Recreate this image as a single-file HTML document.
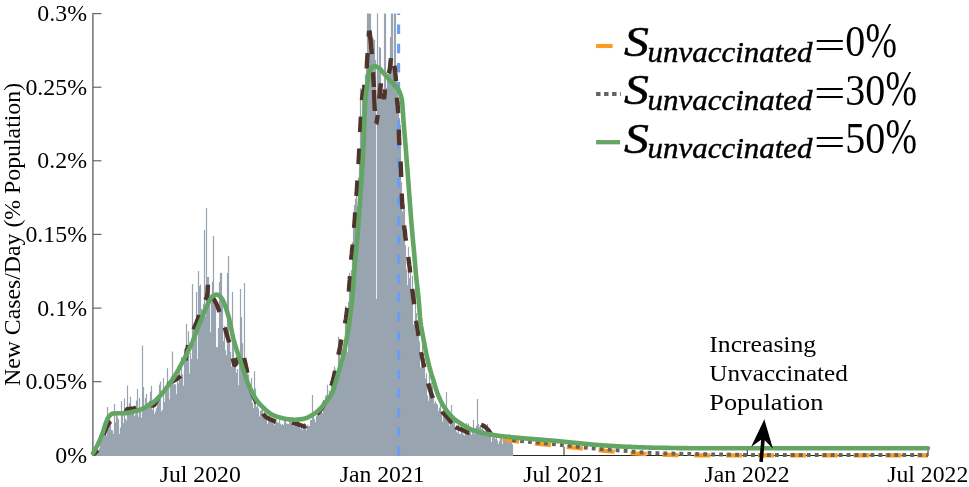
<!DOCTYPE html>
<html lang="en"><head><meta charset="utf-8"><title>New Cases/Day (% Population)</title>
<style>html,body{margin:0;padding:0;background:#fff;overflow:hidden}svg{display:block}</style></head>
<body>
<svg width="969" height="487" viewBox="0 0 969 487">
<rect width="969" height="487" fill="#fff"/>
<g stroke="#262626" stroke-width="1" fill="none">
<path d="M93.0,455.5 H928.5"/>
<path d="M200.5,455.2 v-8.3"/>
<path d="M382.5,455.2 v-8.3"/>
<path d="M564.0,455.2 v-8.3"/>
<path d="M747.3,455.2 v-8.3"/>
<path d="M928.0,455.2 v-8.3"/>
</g>
<path d="M92.9,456.0v-2.1h1.2v2.1zM93.9,456.0v-3.0h1.2v3.0zM94.9,456.0v-3.6h1.2v3.6zM95.9,456.0v-4.1h1.2v4.1zM96.9,456.0v-5.4h1.2v5.4zM97.9,456.0v-5.5h1.2v5.5zM98.9,456.0v-7.6h1.2v7.6zM99.9,456.0v-15.2h1.2v15.2zM100.9,456.0v-15.0h1.2v15.0zM101.9,456.0v-17.1h1.2v17.1zM102.9,456.0v-22.8h1.2v22.8zM103.9,456.0v-25.2h1.2v25.2zM104.9,456.0v-23.6h1.2v23.6zM105.9,456.0v-20.2h1.2v20.2zM106.9,456.0v-49.0h1.2v49.0zM107.9,456.0v-40.6h1.2v40.6zM108.9,456.0v-40.8h1.2v40.8zM109.9,456.0v-32.8h1.2v32.8zM110.9,456.0v-25.9h1.2v25.9zM111.9,456.0v-25.6h1.2v25.6zM112.9,456.0v-22.1h1.2v22.1zM113.9,456.0v-52.1h1.2v52.1zM114.9,456.0v-33.8h1.2v33.8zM115.9,456.0v-42.5h1.2v42.5zM116.9,456.0v-39.6h1.2v39.6zM117.9,456.0v-36.8h1.2v36.8zM118.9,456.0v-22.1h1.2v22.1zM119.9,456.0v-28.5h1.2v28.5zM120.9,456.0v-55.1h1.2v55.1zM121.9,456.0v-43.9h1.2v43.9zM122.9,456.0v-32.8h1.2v32.8zM123.9,456.0v-57.4h1.2v57.4zM124.9,456.0v-37.3h1.2v37.3zM125.9,456.0v-35.4h1.2v35.4zM126.9,456.0v-70.5h1.2v70.5zM127.9,456.0v-43.7h1.2v43.7zM128.9,456.0v-52.7h1.2v52.7zM129.9,456.0v-59.3h1.2v59.3zM130.9,456.0v-43.8h1.2v43.8zM131.9,456.0v-46.7h1.2v46.7zM132.9,456.0v-42.8h1.2v42.8zM133.9,456.0v-39.7h1.2v39.7zM134.9,456.0v-41.8h1.2v41.8zM135.9,456.0v-55.4h1.2v55.4zM136.9,456.0v-67.0h1.2v67.0zM137.9,456.0v-39.3h1.2v39.3zM138.9,456.0v-58.2h1.2v58.2zM139.9,456.0v-45.8h1.2v45.8zM140.9,456.0v-38.2h1.2v38.2zM141.9,456.0v-110.4h1.2v110.4zM142.9,456.0v-69.0h1.2v69.0zM143.9,456.0v-48.7h1.2v48.7zM144.9,456.0v-57.7h1.2v57.7zM145.9,456.0v-61.9h1.2v61.9zM146.9,456.0v-47.2h1.2v47.2zM147.9,456.0v-49.4h1.2v49.4zM148.9,456.0v-55.1h1.2v55.1zM149.9,456.0v-64.2h1.2v64.2zM150.9,456.0v-69.9h1.2v69.9zM151.9,456.0v-46.2h1.2v46.2zM152.9,456.0v-52.4h1.2v52.4zM153.9,456.0v-42.0h1.2v42.0zM154.9,456.0v-44.6h1.2v44.6zM155.9,456.0v-47.8h1.2v47.8zM156.9,456.0v-57.8h1.2v57.8zM157.9,456.0v-61.1h1.2v61.1zM158.9,456.0v-71.2h1.2v71.2zM159.9,456.0v-74.5h1.2v74.5zM160.9,456.0v-44.4h1.2v44.4zM161.9,456.0v-46.2h1.2v46.2zM162.9,456.0v-78.0h1.2v78.0zM163.9,456.0v-54.1h1.2v54.1zM164.9,456.0v-68.7h1.2v68.7zM165.9,456.0v-70.1h1.2v70.1zM166.9,456.0v-87.7h1.2v87.7zM167.9,456.0v-71.0h1.2v71.0zM168.9,456.0v-56.4h1.2v56.4zM169.9,456.0v-73.3h1.2v73.3zM170.9,456.0v-79.8h1.2v79.8zM171.9,456.0v-104.5h1.2v104.5zM172.9,456.0v-71.5h1.2v71.5zM173.9,456.0v-72.1h1.2v72.1zM174.9,456.0v-71.4h1.2v71.4zM175.9,456.0v-61.8h1.2v61.8zM176.9,456.0v-79.7h1.2v79.7zM177.9,456.0v-72.8h1.2v72.8zM178.9,456.0v-85.4h1.2v85.4zM179.9,456.0v-75.9h1.2v75.9zM180.9,456.0v-99.1h1.2v99.1zM181.9,456.0v-81.7h1.2v81.7zM182.9,456.0v-70.3h1.2v70.3zM183.9,456.0v-107.2h1.2v107.2zM184.9,456.0v-101.6h1.2v101.6zM185.9,456.0v-132.1h1.2v132.1zM186.9,456.0v-110.3h1.2v110.3zM187.9,456.0v-124.7h1.2v124.7zM188.9,456.0v-82.2h1.2v82.2zM189.9,456.0v-103.3h1.2v103.3zM190.9,456.0v-97.1h1.2v97.1zM191.9,456.0v-172.0h1.2v172.0zM192.9,456.0v-130.0h1.2v130.0zM193.9,456.0v-113.1h1.2v113.1zM194.9,456.0v-135.1h1.2v135.1zM195.9,456.0v-164.0h1.2v164.0zM196.9,456.0v-96.9h1.2v96.9zM197.9,456.0v-185.0h1.2v185.0zM198.9,456.0v-170.0h1.2v170.0zM199.9,456.0v-171.6h1.2v171.6zM200.9,456.0v-147.3h1.2v147.3zM201.9,456.0v-146.1h1.2v146.1zM202.9,456.0v-151.7h1.2v151.7zM203.9,456.0v-226.0h1.2v226.0zM204.9,456.0v-139.8h1.2v139.8zM205.9,456.0v-248.0h1.2v248.0zM206.9,456.0v-179.1h1.2v179.1zM207.9,456.0v-179.0h1.2v179.0zM208.9,456.0v-172.0h1.2v172.0zM209.9,456.0v-123.4h1.2v123.4zM210.9,456.0v-154.8h1.2v154.8zM211.9,456.0v-174.5h1.2v174.5zM212.9,456.0v-220.0h1.2v220.0zM213.9,456.0v-152.7h1.2v152.7zM214.9,456.0v-154.4h1.2v154.4zM215.9,456.0v-108.7h1.2v108.7zM216.9,456.0v-108.9h1.2v108.9zM217.9,456.0v-128.0h1.2v128.0zM218.9,456.0v-174.0h1.2v174.0zM219.9,456.0v-183.2h1.2v183.2zM220.9,456.0v-183.0h1.2v183.0zM221.9,456.0v-157.3h1.2v157.3zM222.9,456.0v-115.0h1.2v115.0zM223.9,456.0v-129.7h1.2v129.7zM224.9,456.0v-105.6h1.2v105.6zM225.9,456.0v-100.7h1.2v100.7zM226.9,456.0v-183.0h1.2v183.0zM227.9,456.0v-200.0h1.2v200.0zM228.9,456.0v-113.8h1.2v113.8zM229.9,456.0v-104.0h1.2v104.0zM230.9,456.0v-89.3h1.2v89.3zM231.9,456.0v-164.0h1.2v164.0zM232.9,456.0v-120.9h1.2v120.9zM233.9,456.0v-93.4h1.2v93.4zM234.9,456.0v-98.3h1.2v98.3zM235.9,456.0v-83.2h1.2v83.2zM236.9,456.0v-86.9h1.2v86.9zM237.9,456.0v-70.8h1.2v70.8zM238.9,456.0v-104.3h1.2v104.3zM239.9,456.0v-167.0h1.2v167.0zM240.9,456.0v-138.8h1.2v138.8zM241.9,456.0v-112.7h1.2v112.7zM242.9,456.0v-93.0h1.2v93.0zM243.9,456.0v-173.0h1.2v173.0zM244.9,456.0v-76.2h1.2v76.2zM245.9,456.0v-74.6h1.2v74.6zM246.9,456.0v-82.4h1.2v82.4zM247.9,456.0v-81.5h1.2v81.5zM248.9,456.0v-64.9h1.2v64.9zM249.9,456.0v-62.7h1.2v62.7zM250.9,456.0v-77.9h1.2v77.9zM251.9,456.0v-53.2h1.2v53.2zM252.9,456.0v-47.7h1.2v47.7zM253.9,456.0v-84.8h1.2v84.8zM254.9,456.0v-67.4h1.2v67.4zM255.9,456.0v-49.0h1.2v49.0zM256.9,456.0v-51.2h1.2v51.2zM257.9,456.0v-47.4h1.2v47.4zM258.9,456.0v-39.5h1.2v39.5zM259.9,456.0v-45.1h1.2v45.1zM260.9,456.0v-45.9h1.2v45.9zM261.9,456.0v-45.9h1.2v45.9zM262.9,456.0v-40.9h1.2v40.9zM263.9,456.0v-42.4h1.2v42.4zM264.9,456.0v-37.8h1.2v37.8zM265.9,456.0v-36.2h1.2v36.2zM266.9,456.0v-32.1h1.2v32.1zM267.9,456.0v-35.0h1.2v35.0zM268.9,456.0v-43.4h1.2v43.4zM269.9,456.0v-36.5h1.2v36.5zM270.9,456.0v-37.4h1.2v37.4zM271.9,456.0v-35.7h1.2v35.7zM272.9,456.0v-32.3h1.2v32.3zM273.9,456.0v-30.7h1.2v30.7zM274.9,456.0v-36.9h1.2v36.9zM275.9,456.0v-34.6h1.2v34.6zM276.9,456.0v-33.9h1.2v33.9zM277.9,456.0v-33.1h1.2v33.1zM278.9,456.0v-35.7h1.2v35.7zM279.9,456.0v-32.5h1.2v32.5zM280.9,456.0v-30.8h1.2v30.8zM281.9,456.0v-32.0h1.2v32.0zM282.9,456.0v-30.9h1.2v30.9zM283.9,456.0v-36.4h1.2v36.4zM284.9,456.0v-35.6h1.2v35.6zM285.9,456.0v-32.4h1.2v32.4zM286.9,456.0v-32.3h1.2v32.3zM287.9,456.0v-32.1h1.2v32.1zM288.9,456.0v-36.0h1.2v36.0zM289.9,456.0v-37.3h1.2v37.3zM290.9,456.0v-33.0h1.2v33.0zM291.9,456.0v-37.5h1.2v37.5zM292.9,456.0v-30.0h1.2v30.0zM293.9,456.0v-33.3h1.2v33.3zM294.9,456.0v-31.2h1.2v31.2zM295.9,456.0v-35.5h1.2v35.5zM296.9,456.0v-39.0h1.2v39.0zM297.9,456.0v-36.7h1.2v36.7zM298.9,456.0v-28.8h1.2v28.8zM299.9,456.0v-27.1h1.2v27.1zM300.9,456.0v-30.8h1.2v30.8zM301.9,456.0v-25.6h1.2v25.6zM302.9,456.0v-30.5h1.2v30.5zM303.9,456.0v-33.3h1.2v33.3zM304.9,456.0v-27.0h1.2v27.0zM305.9,456.0v-25.7h1.2v25.7zM306.9,456.0v-31.3h1.2v31.3zM307.9,456.0v-29.9h1.2v29.9zM308.9,456.0v-29.9h1.2v29.9zM309.9,456.0v-36.1h1.2v36.1zM310.9,456.0v-36.3h1.2v36.3zM311.9,456.0v-61.0h1.2v61.0zM312.9,456.0v-38.9h1.2v38.9zM313.9,456.0v-37.0h1.2v37.0zM314.9,456.0v-33.8h1.2v33.8zM315.9,456.0v-39.7h1.2v39.7zM316.9,456.0v-43.5h1.2v43.5zM317.9,456.0v-47.5h1.2v47.5zM318.9,456.0v-42.9h1.2v42.9zM319.9,456.0v-44.0h1.2v44.0zM320.9,456.0v-43.7h1.2v43.7zM321.9,456.0v-43.1h1.2v43.1zM322.9,456.0v-47.3h1.2v47.3zM323.9,456.0v-51.1h1.2v51.1zM324.9,456.0v-59.7h1.2v59.7zM325.9,456.0v-61.2h1.2v61.2zM326.9,456.0v-71.2h1.2v71.2zM327.9,456.0v-55.5h1.2v55.5zM328.9,456.0v-65.4h1.2v65.4zM329.9,456.0v-60.4h1.2v60.4zM330.9,456.0v-73.4h1.2v73.4zM331.9,456.0v-70.2h1.2v70.2zM332.9,456.0v-78.8h1.2v78.8zM333.9,456.0v-89.5h1.2v89.5zM334.9,456.0v-86.7h1.2v86.7zM335.9,456.0v-85.0h1.2v85.0zM336.9,456.0v-81.9h1.2v81.9zM337.9,456.0v-119.2h1.2v119.2zM338.9,456.0v-116.6h1.2v116.6zM339.9,456.0v-95.7h1.2v95.7zM340.9,456.0v-111.5h1.2v111.5zM341.9,456.0v-103.9h1.2v103.9zM342.9,456.0v-92.5h1.2v92.5zM343.9,456.0v-114.1h1.2v114.1zM344.9,456.0v-150.1h1.2v150.1zM345.9,456.0v-148.8h1.2v148.8zM346.9,456.0v-104.0h1.2v104.0zM347.9,456.0v-154.3h1.2v154.3zM348.9,456.0v-183.3h1.2v183.3zM349.9,456.0v-179.7h1.2v179.7zM350.9,456.0v-185.9h1.2v185.9zM351.9,456.0v-214.1h1.2v214.1zM352.9,456.0v-231.0h1.2v231.0zM353.9,456.0v-251.0h1.2v251.0zM354.9,456.0v-257.0h1.2v257.0zM355.9,456.0v-264.6h1.2v264.6zM356.9,456.0v-249.5h1.2v249.5zM357.9,456.0v-278.6h1.2v278.6zM358.9,456.0v-308.0h1.2v308.0zM359.9,456.0v-367.4h1.2v367.4zM360.9,456.0v-339.6h1.2v339.6zM361.9,456.0v-360.8h1.2v360.8zM362.9,456.0v-365.8h1.2v365.8zM363.9,456.0v-330.7h1.2v330.7zM364.9,456.0v-381.6h1.2v381.6zM365.9,456.0v-402.0h1.2v402.0zM366.9,456.0v-442.5h1.2v442.5zM367.9,456.0v-442.5h1.2v442.5zM368.9,456.0v-442.5h1.2v442.5zM369.9,456.0v-442.5h1.2v442.5zM370.9,456.0v-420.0h1.2v420.0zM371.9,456.0v-419.0h1.2v419.0zM372.9,456.0v-417.0h1.2v417.0zM373.9,456.0v-416.0h1.2v416.0zM374.9,456.0v-396.0h1.2v396.0zM375.9,456.0v-157.0h1.2v157.0zM376.9,456.0v-442.5h1.2v442.5zM377.9,456.0v-386.0h1.2v386.0zM378.9,456.0v-409.0h1.2v409.0zM379.9,456.0v-408.0h1.2v408.0zM380.9,456.0v-366.0h1.2v366.0zM381.9,456.0v-371.0h1.2v371.0zM382.9,456.0v-361.0h1.2v361.0zM383.9,456.0v-442.5h1.2v442.5zM384.9,456.0v-442.5h1.2v442.5zM385.9,456.0v-368.0h1.2v368.0zM386.9,456.0v-376.0h1.2v376.0zM387.9,456.0v-382.0h1.2v382.0zM388.9,456.0v-396.0h1.2v396.0zM389.9,456.0v-419.0h1.2v419.0zM390.9,456.0v-442.5h1.2v442.5zM391.9,456.0v-442.5h1.2v442.5zM392.9,456.0v-386.0h1.2v386.0zM393.9,456.0v-442.5h1.2v442.5zM394.9,456.0v-442.5h1.2v442.5zM395.9,456.0v-376.0h1.2v376.0zM396.9,456.0v-364.0h1.2v364.0zM397.9,456.0v-356.0h1.2v356.0zM398.9,456.0v-338.0h1.2v338.0zM399.9,456.0v-331.0h1.2v331.0zM400.9,456.0v-273.9h1.2v273.9zM401.9,456.0v-244.2h1.2v244.2zM402.9,456.0v-250.6h1.2v250.6zM403.9,456.0v-252.6h1.2v252.6zM404.9,456.0v-210.8h1.2v210.8zM405.9,456.0v-186.6h1.2v186.6zM406.9,456.0v-170.7h1.2v170.7zM407.9,456.0v-209.3h1.2v209.3zM408.9,456.0v-177.8h1.2v177.8zM409.9,456.0v-189.0h1.2v189.0zM410.9,456.0v-161.7h1.2v161.7zM411.9,456.0v-180.1h1.2v180.1zM412.9,456.0v-131.3h1.2v131.3zM413.9,456.0v-135.0h1.2v135.0zM414.9,456.0v-173.0h1.2v173.0zM415.9,456.0v-143.1h1.2v143.1zM416.9,456.0v-128.0h1.2v128.0zM417.9,456.0v-125.3h1.2v125.3zM418.9,456.0v-114.4h1.2v114.4zM419.9,456.0v-88.5h1.2v88.5zM420.9,456.0v-91.6h1.2v91.6zM421.9,456.0v-124.5h1.2v124.5zM422.9,456.0v-99.0h1.2v99.0zM423.9,456.0v-92.2h1.2v92.2zM424.9,456.0v-77.2h1.2v77.2zM425.9,456.0v-82.7h1.2v82.7zM426.9,456.0v-60.5h1.2v60.5zM427.9,456.0v-55.0h1.2v55.0zM428.9,456.0v-80.9h1.2v80.9zM429.9,456.0v-65.0h1.2v65.0zM430.9,456.0v-73.3h1.2v73.3zM431.9,456.0v-70.0h1.2v70.0zM432.9,456.0v-58.5h1.2v58.5zM433.9,456.0v-52.5h1.2v52.5zM434.9,456.0v-55.0h1.2v55.0zM435.9,456.0v-52.8h1.2v52.8zM436.9,456.0v-51.5h1.2v51.5zM437.9,456.0v-45.1h1.2v45.1zM438.9,456.0v-48.2h1.2v48.2zM439.9,456.0v-53.4h1.2v53.4zM440.9,456.0v-44.9h1.2v44.9zM441.9,456.0v-34.2h1.2v34.2zM442.9,456.0v-41.1h1.2v41.1zM443.9,456.0v-43.5h1.2v43.5zM444.9,456.0v-44.9h1.2v44.9zM445.9,456.0v-64.0h1.2v64.0zM446.9,456.0v-39.6h1.2v39.6zM447.9,456.0v-35.1h1.2v35.1zM448.9,456.0v-29.9h1.2v29.9zM449.9,456.0v-36.3h1.2v36.3zM450.9,456.0v-51.0h1.2v51.0zM451.9,456.0v-33.8h1.2v33.8zM452.9,456.0v-33.5h1.2v33.5zM453.9,456.0v-38.2h1.2v38.2zM454.9,456.0v-28.5h1.2v28.5zM455.9,456.0v-24.6h1.2v24.6zM456.9,456.0v-23.2h1.2v23.2zM457.9,456.0v-31.9h1.2v31.9zM458.9,456.0v-21.9h1.2v21.9zM459.9,456.0v-22.2h1.2v22.2zM460.9,456.0v-30.0h1.2v30.0zM461.9,456.0v-26.1h1.2v26.1zM462.9,456.0v-21.5h1.2v21.5zM463.9,456.0v-20.5h1.2v20.5zM464.9,456.0v-25.5h1.2v25.5zM465.9,456.0v-32.7h1.2v32.7zM466.9,456.0v-26.3h1.2v26.3zM467.9,456.0v-32.4h1.2v32.4zM468.9,456.0v-21.7h1.2v21.7zM469.9,456.0v-24.6h1.2v24.6zM470.9,456.0v-20.9h1.2v20.9zM471.9,456.0v-26.2h1.2v26.2zM472.9,456.0v-36.0h1.2v36.0zM473.9,456.0v-22.0h1.2v22.0zM474.9,456.0v-28.0h1.2v28.0zM475.9,456.0v-30.0h1.2v30.0zM476.9,456.0v-57.0h1.2v57.0zM477.9,456.0v-32.0h1.2v32.0zM478.9,456.0v-29.0h1.2v29.0zM479.9,456.0v-31.0h1.2v31.0zM480.9,456.0v-27.0h1.2v27.0zM481.9,456.0v-30.2h1.2v30.2zM482.9,456.0v-25.9h1.2v25.9zM483.9,456.0v-24.2h1.2v24.2zM484.9,456.0v-25.0h1.2v25.0zM485.9,456.0v-24.7h1.2v24.7zM486.9,456.0v-32.0h1.2v32.0zM487.9,456.0v-25.3h1.2v25.3zM488.9,456.0v-25.0h1.2v25.0zM489.9,456.0v-23.6h1.2v23.6zM490.9,456.0v-14.0h1.2v14.0zM491.9,456.0v-18.2h1.2v18.2zM492.9,456.0v-21.0h1.2v21.0zM493.9,456.0v-20.3h1.2v20.3zM494.9,456.0v-16.9h1.2v16.9zM495.9,456.0v-19.8h1.2v19.8zM496.9,456.0v-15.6h1.2v15.6zM497.9,456.0v-11.9h1.2v11.9zM498.9,456.0v-14.8h1.2v14.8zM499.9,456.0v-19.6h1.2v19.6zM500.9,456.0v-17.9h1.2v17.9zM501.9,456.0v-12.1h1.2v12.1zM502.9,456.0v-18.8h1.2v18.8zM503.9,456.0v-15.2h1.2v15.2zM504.9,456.0v-15.9h1.2v15.9zM505.9,456.0v-21.4h1.2v21.4zM506.9,456.0v-15.8h1.2v15.8zM507.9,456.0v-13.5h1.2v13.5zM508.9,456.0v-21.7h1.2v21.7zM509.9,456.0v-14.4h1.2v14.4zM510.9,456.0v-16.7h1.2v16.7zM511.9,456.0v-11.5h1.2v11.5z" fill="#98a4af"/>
<g stroke="#5a5a5a" stroke-width="1.3" fill="none">
<path d="M92.9,13.2 V456.0"/>
<path d="M92.9,381.7 H101.5" stroke-width="1.1"/>
<path d="M92.9,308.1 H101.5" stroke-width="1.1"/>
<path d="M92.9,234.4 H101.5" stroke-width="1.1"/>
<path d="M92.9,160.8 H101.5" stroke-width="1.1"/>
<path d="M92.9,87.2 H101.5" stroke-width="1.1"/>
<path d="M92.9,13.6 H101.5" stroke-width="1.1"/>
</g>
<path d="M398.6,455.6 V13.5" stroke="#6b9df1" stroke-width="3.1" stroke-dasharray="9.5 9.66" fill="none"/>
<path d="M93.5,454.0 L93.8,453.9 L94.0,453.7 L94.2,453.5 L94.5,453.3 L94.8,453.1 L95.0,452.9 L95.2,452.7 L95.5,452.5 L95.8,452.2 L96.0,452.0 L96.2,451.7 L96.5,451.5 L96.8,451.2 L97.0,450.9 L97.2,450.6 L97.5,450.3 L97.8,450.0 L98.0,449.6 L98.2,449.2 L98.5,448.8 L98.8,448.4 L99.0,448.0 L99.2,447.5 L99.5,447.0 L99.8,446.4 L100.0,445.8 L100.2,445.1 L100.5,444.4 L100.8,443.7 L101.0,442.9 L101.2,442.2 L101.5,441.4 L101.8,440.7 L102.0,440.0 L102.2,439.3 L102.5,438.5 L102.8,437.8 L103.0,437.0 L103.2,436.2 L103.5,435.4 L103.8,434.6 L104.0,433.8 L104.2,433.1 L104.5,432.3 L104.8,431.7 L105.0,431.0 L105.2,430.4 L105.5,429.8 L105.8,429.1 L106.0,428.5 L106.2,427.9 L106.5,427.4 L106.8,426.8 L107.0,426.3 L107.2,425.8 L107.5,425.3 L107.8,424.9 L108.0,424.5 L108.2,424.1 L108.5,423.8 L108.8,423.4 L109.0,423.1 L109.2,422.8 L109.5,422.4 L109.8,422.2 L110.0,421.9 L110.2,421.6 L110.5,421.4 L110.8,421.2 L111.0,421.0 L111.2,420.8 L111.5,420.7 L111.8,420.5 L112.0,420.4 L112.2,420.2 L112.5,420.1 L112.8,419.9 L113.0,419.8 L113.2,419.7 L113.5,419.6 L113.8,419.5 L114.0,419.4 L114.2,419.3 L114.5,419.2 L114.8,419.1 L115.0,419.0 L115.2,418.9 L115.5,418.8 L115.8,418.7 L116.0,418.7 L116.2,418.6 L116.5,418.5 L116.8,418.4 L117.0,418.4 L117.2,418.3 L117.5,418.3 L117.8,418.2 L118.0,418.2 L118.2,418.2 L118.5,418.2 L118.8,418.1 L119.0,418.1 L119.2,418.1 L119.5,418.1 L119.8,418.1 L120.0,418.1 L120.2,418.1 L120.5,418.1 L120.8,418.1 L121.0,418.0 L121.2,418.0 L121.5,418.0 L121.8,418.0 L122.0,417.9 L122.2,417.8 L122.5,417.7 L122.8,417.5 L123.0,417.4 L123.2,417.2 L123.5,417.0 L123.8,416.7 L124.0,416.5 L124.2,416.1 L124.5,415.5 L124.8,414.8 L125.0,413.9 L125.2,413.1 L125.5,412.2 L125.8,411.5 L126.0,411.0 L126.2,410.6 L126.5,410.1 L126.8,409.8 L127.0,409.4 L127.2,409.2 L127.5,409.0 L127.8,409.0 L128.0,409.0 L128.2,408.9 L128.5,408.9 L128.8,408.9 L129.0,408.9 L129.2,408.9 L129.5,408.9 L129.8,408.9 L130.0,408.9 L130.2,408.8 L130.5,408.8 L130.8,408.8 L131.0,408.8 L131.2,408.8 L131.5,408.7 L131.8,408.7 L132.0,408.7 L132.2,408.6 L132.5,408.6 L132.8,408.6 L133.0,408.5 L133.2,408.5 L133.5,408.4 L133.8,408.4 L134.0,408.3 L134.2,408.2 L134.5,408.2 L134.8,408.1 L135.0,408.0 L135.2,407.9 L135.5,407.8 L135.8,407.7 L136.0,407.5 L136.2,407.4 L136.5,407.3 L136.8,407.2 L137.0,407.0 L137.2,406.9 L137.5,406.8 L137.8,406.6 L138.0,406.5 L138.2,406.4 L138.5,406.2 L138.8,406.1 L139.0,406.0 L139.2,405.9 L139.5,405.7 L139.8,405.6 L140.0,405.4 L140.2,405.3 L140.5,405.1 L140.8,404.9 L141.0,404.7 L141.2,404.5 L141.5,404.3 L141.8,404.0 L142.0,403.7 L142.2,403.4 L142.5,403.1 L142.8,402.8 L143.0,402.5 L143.2,402.2 L143.5,401.9 L143.8,401.7 L144.0,401.5 L144.2,401.3 L144.5,401.1 L144.8,400.9 L145.0,400.7 L145.2,400.5 L145.5,400.3 L145.8,400.2 L146.0,400.1 L146.2,400.0 L146.5,400.0 L146.8,400.1 L147.0,400.2 L147.2,400.5 L147.5,400.8 L147.8,401.1 L148.0,401.5 L148.2,401.9 L148.5,402.3 L148.8,402.7 L149.0,403.0 L149.2,403.3 L149.5,403.6 L149.8,404.0 L150.0,404.3 L150.2,404.6 L150.5,404.9 L150.8,405.1 L151.0,405.2 L151.2,405.3 L151.5,405.3 L151.8,405.4 L152.0,405.4 L152.2,405.4 L152.5,405.5 L152.8,405.5 L153.0,405.5 L153.2,405.5 L153.5,405.5 L153.8,405.4 L154.0,405.2 L154.2,404.9 L154.5,404.6 L154.8,404.2 L155.0,403.7 L155.2,403.3 L155.5,402.8 L155.8,402.4 L156.0,402.0 L156.2,401.6 L156.5,401.2 L156.8,400.7 L157.0,400.3 L157.2,399.8 L157.5,399.4 L157.8,398.9 L158.0,398.5 L158.2,398.1 L158.5,397.7 L158.8,397.3 L159.0,396.9 L159.2,396.5 L159.5,396.2 L159.8,395.8 L160.0,395.4 L160.2,395.0 L160.5,394.7 L160.8,394.3 L161.0,394.0 L161.2,393.6 L161.5,393.2 L161.8,392.9 L162.0,392.5 L162.2,392.1 L162.5,391.8 L162.8,391.4 L163.0,391.0 L163.2,390.6 L163.5,390.3 L163.8,389.9 L164.0,389.5 L164.2,389.2 L164.5,388.8 L164.8,388.5 L165.0,388.1 L165.2,387.8 L165.5,387.5 L165.8,387.2 L166.0,386.9 L166.2,386.6 L166.5,386.3 L166.8,386.1 L167.0,385.8 L167.2,385.5 L167.5,385.3 L167.8,385.0 L168.0,384.8 L168.2,384.5 L168.5,384.3 L168.8,384.0 L169.0,383.8 L169.2,383.6 L169.5,383.4 L169.8,383.2 L170.0,383.0 L170.2,382.8 L170.5,382.6 L170.8,382.5 L171.0,382.3 L171.2,382.1 L171.5,382.0 L171.8,381.8 L172.0,381.7 L172.2,381.6 L172.5,381.4 L172.8,381.3 L173.0,381.1 L173.2,381.0 L173.5,380.9 L173.8,380.7 L174.0,380.6 L174.2,380.4 L174.5,380.3 L174.8,380.2 L175.0,380.0 L175.2,379.8 L175.5,379.7 L175.8,379.6 L176.0,379.4 L176.2,379.3 L176.5,379.1 L176.8,379.0 L177.0,378.9 L177.2,378.7 L177.5,378.6 L177.8,378.4 L178.0,378.2 L178.2,378.1 L178.5,377.9 L178.8,377.7 L179.0,377.5 L179.2,377.3 L179.5,377.1 L179.8,376.8 L180.0,376.6 L180.2,376.4 L180.5,376.1 L180.8,375.8 L181.0,375.5 L181.2,375.2 L181.5,374.8 L181.8,374.4 L182.0,374.0 L182.2,373.5 L182.5,373.0 L182.8,372.3 L183.0,371.6 L183.2,370.8 L183.5,369.9 L183.8,369.0 L184.0,368.0 L184.2,367.0 L184.5,366.0 L184.8,364.8 L185.0,363.5 L185.2,362.0 L185.5,360.4 L185.8,358.7 L186.0,357.1 L186.2,355.5 L186.5,354.0 L186.8,352.5 L187.0,351.1 L187.2,349.6 L187.5,348.1 L187.8,346.7 L188.0,345.5 L188.2,344.3 L188.5,343.3 L188.8,342.4 L189.0,341.5 L189.2,340.7 L189.5,340.0 L189.8,339.2 L190.0,338.5 L190.2,337.8 L190.5,337.2 L190.8,336.5 L191.0,335.9 L191.2,335.3 L191.5,334.7 L191.8,334.1 L192.0,333.5 L192.2,332.9 L192.5,332.3 L192.8,331.6 L193.0,331.0 L193.2,330.4 L193.5,329.7 L193.8,329.1 L194.0,328.5 L194.2,327.9 L194.5,327.3 L194.8,326.7 L195.0,326.1 L195.2,325.5 L195.5,325.0 L195.8,324.4 L196.0,323.8 L196.2,323.2 L196.5,322.5 L196.8,321.9 L197.0,321.3 L197.2,320.6 L197.5,320.0 L197.8,319.3 L198.0,318.5 L198.2,317.8 L198.5,317.0 L198.8,316.2 L199.0,315.3 L199.2,314.5 L199.5,313.7 L199.8,312.8 L200.0,312.0 L200.2,311.2 L200.5,310.4 L200.8,309.7 L201.0,309.0 L201.2,308.3 L201.5,307.7 L201.8,307.0 L202.0,306.4 L202.2,305.8 L202.5,305.2 L202.8,304.6 L203.0,304.1 L203.2,303.5 L203.5,303.0 L203.8,302.5 L204.0,302.1 L204.2,301.6 L204.5,301.2 L204.8,300.8 L205.0,300.4 L205.2,300.0 L205.5,299.5 L205.8,299.1 L206.0,298.7 L206.2,298.4 L206.5,298.0 L206.8,297.5 L207.0,296.8 L207.2,295.7 L207.5,291.9 L207.8,286.1 L208.0,283.8 L208.2,285.9 L208.5,288.4 L208.8,289.6 L209.0,290.5 L209.2,291.3 L209.5,291.9 L209.8,292.5 L210.0,293.0 L210.2,293.5 L210.5,294.0 L210.8,294.5 L211.0,294.9 L211.2,295.3 L211.5,295.7 L211.8,296.1 L212.0,296.5 L212.2,296.9 L212.5,297.3 L212.8,297.6 L213.0,298.0 L213.2,298.4 L213.5,298.7 L213.8,299.1 L214.0,299.5 L214.2,299.9 L214.5,300.3 L214.8,300.8 L215.0,301.2 L215.2,301.6 L215.5,302.1 L215.8,302.6 L216.0,303.0 L216.2,303.5 L216.5,304.1 L216.8,304.6 L217.0,305.2 L217.2,305.8 L217.5,306.4 L217.8,307.0 L218.0,307.7 L218.2,308.4 L218.5,309.1 L218.8,309.9 L219.0,310.6 L219.2,311.3 L219.5,312.1 L219.8,312.8 L220.0,313.5 L220.2,314.2 L220.5,314.9 L220.8,315.6 L221.0,316.4 L221.2,317.1 L221.5,317.8 L221.8,318.5 L222.0,319.3 L222.2,320.0 L222.5,320.8 L222.8,321.5 L223.0,322.3 L223.2,323.0 L223.5,323.8 L223.8,324.6 L224.0,325.3 L224.2,326.1 L224.5,326.9 L224.8,327.7 L225.0,328.5 L225.2,329.3 L225.5,330.1 L225.8,330.9 L226.0,331.7 L226.2,332.5 L226.5,333.3 L226.8,334.2 L227.0,335.0 L227.2,335.8 L227.5,336.7 L227.8,337.5 L228.0,338.3 L228.2,339.2 L228.5,340.0 L228.8,340.9 L229.0,341.8 L229.2,342.7 L229.5,343.6 L229.8,344.5 L230.0,345.4 L230.2,346.4 L230.5,347.4 L230.8,348.5 L231.0,349.6 L231.2,350.7 L231.5,351.9 L231.8,353.1 L232.0,354.3 L232.2,355.4 L232.5,356.5 L232.8,357.7 L233.0,359.0 L233.2,360.3 L233.5,361.6 L233.8,362.8 L234.0,363.8 L234.2,364.6 L234.5,365.0 L234.8,365.0 L235.0,364.9 L235.2,364.7 L235.5,364.5 L235.8,364.3 L236.0,364.0 L236.2,363.6 L236.5,363.0 L236.8,362.3 L237.0,361.5 L237.2,360.6 L237.5,359.7 L237.8,358.8 L238.0,358.0 L238.2,357.2 L238.5,356.4 L238.8,355.5 L239.0,354.7 L239.2,353.8 L239.5,353.1 L239.8,352.5 L240.0,352.0 L240.2,351.6 L240.5,351.2 L240.8,350.8 L241.0,350.6 L241.2,350.4 L241.5,350.3 L241.8,350.4 L242.0,350.7 L242.2,351.2 L242.5,351.7 L242.8,352.4 L243.0,353.0 L243.2,353.7 L243.5,354.7 L243.8,355.8 L244.0,357.0 L244.2,358.3 L244.5,359.6 L244.8,360.8 L245.0,362.0 L245.2,363.1 L245.5,364.2 L245.8,365.3 L246.0,366.4 L246.2,367.6 L246.5,368.7 L246.8,369.8 L247.0,371.0 L247.2,372.2 L247.5,373.5 L247.8,374.7 L248.0,376.0 L248.2,377.3 L248.5,378.5 L248.8,379.8 L249.0,381.0 L249.2,382.2 L249.5,383.4 L249.8,384.7 L250.0,385.9 L250.2,387.0 L250.5,388.1 L250.8,389.1 L251.0,390.0 L251.2,390.8 L251.5,391.5 L251.8,392.2 L252.0,392.9 L252.2,393.5 L252.5,394.1 L252.8,394.7 L253.0,395.3 L253.2,395.9 L253.5,396.4 L253.8,396.9 L254.0,397.5 L254.2,398.0 L254.5,398.6 L254.8,399.1 L255.0,399.6 L255.2,400.1 L255.5,400.6 L255.8,401.1 L256.0,401.6 L256.2,402.1 L256.5,402.6 L256.8,403.0 L257.0,403.5 L257.2,404.0 L257.5,404.4 L257.8,404.9 L258.0,405.4 L258.2,405.8 L258.5,406.3 L258.8,406.7 L259.0,407.2 L259.2,407.6 L259.5,408.1 L259.8,408.5 L260.0,408.9 L260.2,409.3 L260.5,409.7 L260.8,410.1 L261.0,410.5 L261.2,410.9 L261.5,411.3 L261.8,411.6 L262.0,412.0" stroke="#4e342a" stroke-width="4.4" stroke-dasharray="15.5 16.5" stroke-dashoffset="9.6" stroke-linejoin="bevel" fill="none"/>
<path d="M262.0,412.0 L262.2,412.4 L262.5,412.8 L262.8,413.1 L263.0,413.5 L263.2,413.9 L263.5,414.2 L263.8,414.6 L264.0,414.9 L264.2,415.2 L264.5,415.5 L264.8,415.8 L265.0,416.1 L265.2,416.3 L265.5,416.6 L265.8,416.8 L266.0,417.0 L266.2,417.2 L266.5,417.4 L266.8,417.5 L267.0,417.7 L267.2,417.8 L267.5,418.0 L267.8,418.1 L268.0,418.3 L268.2,418.4 L268.5,418.5 L268.8,418.6 L269.0,418.8 L269.2,418.9 L269.5,419.0 L269.8,419.1 L270.0,419.2 L270.2,419.3 L270.5,419.4 L270.8,419.5 L271.0,419.6 L271.2,419.7 L271.5,419.8 L271.8,420.0 L272.0,420.1 L272.2,420.2 L272.5,420.3 L272.8,420.4 L273.0,420.5 L273.2,420.6 L273.5,420.7 L273.8,420.9 L274.0,421.0 L274.2,421.1 L274.5,421.3 L274.8,421.4 L275.0,421.6 L275.2,421.7 L275.5,421.9 L275.8,422.0 L276.0,422.1 L276.2,422.3 L276.5,422.4 L276.8,422.5 L277.0,422.7 L277.2,422.8 L277.5,422.9 L277.8,423.0 L278.0,423.1 L278.2,423.2 L278.5,423.3 L278.8,423.3 L279.0,423.4 L279.2,423.4 L279.5,423.5 L279.8,423.5 L280.0,423.5 L280.2,423.5 L280.5,423.5 L280.8,423.5 L281.0,423.5 L281.2,423.5 L281.5,423.5 L281.8,423.5 L282.0,423.5 L282.2,423.5 L282.5,423.5 L282.8,423.5 L283.0,423.4 L283.2,423.4 L283.5,423.4 L283.8,423.4 L284.0,423.4 L284.2,423.4 L284.5,423.4 L284.8,423.4 L285.0,423.4 L285.2,423.4 L285.5,423.4 L285.8,423.3 L286.0,423.3 L286.2,423.3 L286.5,423.3 L286.8,423.3 L287.0,423.3 L287.2,423.3 L287.5,423.3 L287.8,423.3 L288.0,423.3 L288.2,423.2 L288.5,423.2 L288.8,423.2 L289.0,423.2 L289.2,423.2 L289.5,423.2 L289.8,423.1 L290.0,423.1 L290.2,423.1 L290.5,423.1 L290.8,423.1 L291.0,423.1 L291.2,423.0 L291.5,423.0 L291.8,423.0 L292.0,423.0 L292.2,423.0 L292.5,423.0 L292.8,423.0 L293.0,423.0 L293.2,423.0 L293.5,423.0 L293.8,423.0 L294.0,423.1 L294.2,423.1 L294.5,423.2 L294.8,423.2 L295.0,423.3 L295.2,423.3 L295.5,423.4 L295.8,423.5 L296.0,423.6 L296.2,423.7 L296.5,423.7 L296.8,423.8 L297.0,423.9 L297.2,424.0 L297.5,424.1 L297.8,424.2 L298.0,424.3 L298.2,424.4 L298.5,424.5 L298.8,424.6 L299.0,424.7 L299.2,424.8 L299.5,424.8 L299.8,424.9 L300.0,425.0 L300.2,425.1 L300.5,425.2 L300.8,425.2 L301.0,425.3 L301.2,425.4 L301.5,425.5 L301.8,425.6 L302.0,425.7 L302.2,425.8 L302.5,425.9 L302.8,426.0 L303.0,426.1 L303.2,426.2 L303.5,426.3 L303.8,426.3 L304.0,426.4 L304.2,426.4 L304.5,426.5 L304.8,426.5 L305.0,426.5 L305.2,426.5 L305.5,426.4 L305.8,426.4 L306.0,426.3 L306.2,426.2 L306.5,426.0 L306.8,425.9 L307.0,425.7 L307.2,425.5 L307.5,425.4 L307.8,425.2 L308.0,425.0 L308.2,424.8 L308.5,424.5 L308.8,424.2 L309.0,423.8 L309.2,423.4 L309.5,422.9 L309.8,422.4 L310.0,422.0 L310.2,421.5 L310.5,421.0 L310.8,420.5 L311.0,420.0 L311.2,419.6 L311.5,419.2 L311.8,418.8 L312.0,418.5 L312.2,418.2 L312.5,417.9 L312.8,417.7 L313.0,417.4 L313.2,417.2 L313.5,417.0 L313.8,416.8 L314.0,416.6 L314.2,416.4 L314.5,416.2 L314.8,416.0 L315.0,415.8 L315.2,415.6 L315.5,415.4 L315.8,415.2 L316.0,414.9 L316.2,414.7 L316.5,414.5 L316.8,414.3 L317.0,414.0 L317.2,413.7 L317.5,413.5 L317.8,413.2 L318.0,413.0 L318.2,412.7 L318.5,412.4 L318.8,412.2 L319.0,411.9 L319.2,411.6 L319.5,411.3 L319.8,411.0 L320.0,410.7 L320.2,410.4 L320.5,410.1 L320.8,409.8 L321.0,409.4 L321.2,409.1 L321.5,408.7 L321.8,408.4 L322.0,408.0 L322.2,407.6 L322.5,407.2 L322.8,406.7 L323.0,406.3 L323.2,405.8 L323.5,405.3 L323.8,404.8 L324.0,404.3 L324.2,403.7 L324.5,403.2 L324.8,402.7 L325.0,402.1 L325.2,401.6 L325.5,401.0 L325.8,400.4 L326.0,399.9 L326.2,399.3 L326.5,398.7 L326.8,398.1 L327.0,397.6 L327.2,396.9 L327.5,396.3 L327.8,395.7 L328.0,395.1 L328.2,394.5 L328.5,393.8 L328.8,393.2 L329.0,392.5 L329.2,391.8 L329.5,391.1 L329.8,390.4 L330.0,389.7 L330.2,389.0 L330.5,388.3 L330.8,387.5 L331.0,386.8 L331.2,386.0 L331.5,385.2 L331.8,384.4 L332.0,383.6 L332.2,382.7 L332.5,381.8 L332.8,380.9 L333.0,380.0 L333.2,379.0 L333.5,378.0 L333.8,377.0 L334.0,375.9 L334.2,374.8 L334.5,373.6 L334.8,372.4 L335.0,371.2 L335.2,370.0 L335.5,368.8 L335.8,367.6 L336.0,366.3 L336.2,365.1 L336.5,363.9 L336.8,362.6 L337.0,361.4 L337.2,360.2 L337.5,359.1 L337.8,357.9 L338.0,356.7 L338.2,355.5 L338.5,354.3 L338.8,353.1 L339.0,351.9 L339.2,350.7 L339.5,349.5 L339.8,348.2 L340.0,347.0 L340.2,345.7 L340.5,344.5 L340.8,343.2 L341.0,341.8 L341.2,340.5 L341.5,339.2 L341.8,337.9 L342.0,336.6 L342.2,335.3 L342.5,334.0 L342.8,332.7 L343.0,331.5 L343.2,330.3 L343.5,329.2 L343.8,328.1 L344.0,327.1 L344.2,326.2 L344.5,325.3 L344.8,324.3 L345.0,323.3 L345.2,322.3 L345.5,321.1 L345.8,319.7 L346.0,318.2 L346.2,316.5 L346.5,314.6 L346.8,312.6 L347.0,310.5 L347.2,308.2 L347.5,305.9 L347.8,303.5 L348.0,301.0 L348.2,298.5 L348.5,295.8 L348.8,292.8 L349.0,289.7 L349.2,286.3 L349.5,282.9 L349.8,279.4 L350.0,275.8 L350.2,272.3 L350.5,268.8 L350.8,265.4 L351.0,262.1 L351.2,259.0 L351.5,256.1 L351.8,253.5 L352.0,251.1 L352.2,248.9 L352.5,246.7 L352.8,244.5 L353.0,242.1 L353.2,239.4 L353.5,236.5 L353.8,233.3 L354.0,229.9 L354.2,226.4 L354.5,222.7 L354.8,219.1 L355.0,215.4 L355.2,211.8 L355.5,208.3 L355.8,204.9 L356.0,201.4 L356.2,198.0 L356.5,194.6 L356.8,191.1 L357.0,187.5 L357.2,183.8 L357.5,180.0 L357.8,176.0 L358.0,171.9 L358.2,167.6 L358.5,163.2 L358.8,158.8 L359.0,154.3 L359.2,149.9 L359.5,145.3 L359.8,140.4 L360.0,135.3 L360.2,130.0 L360.5,124.7 L360.8,119.5 L361.0,114.6 L361.2,110.1 L361.5,106.1 L361.8,102.7 L362.0,100.0 L362.2,97.9 L362.5,96.1 L362.8,94.5 L363.0,93.1 L363.2,91.8 L363.5,90.5 L363.8,89.2 L364.0,88.0 L364.2,86.6 L364.5,85.0 L364.8,83.4 L365.0,81.8 L365.2,80.2 L365.5,78.5 L365.8,76.7 L366.0,74.7 L366.2,72.5 L366.5,69.8 L366.8,66.4 L367.0,62.6 L367.2,58.8 L367.5,54.8 L367.8,50.6 L368.0,46.5 L368.2,42.7 L368.5,39.1 L368.8,35.4 L369.0,32.4 L369.2,30.8" stroke="#4e342a" stroke-width="4.4" stroke-dasharray="15.5 16.5" stroke-dashoffset="30.0" stroke-linejoin="bevel" fill="none"/>
<path d="M369.2,30.8 L369.5,31.3 L369.8,32.9 L370.0,35.2 L370.2,37.6 L370.5,39.8 L370.8,42.1 L371.0,44.7 L371.2,47.4 L371.5,50.3 L371.8,53.4 L372.0,56.6 L372.2,60.2 L372.5,64.0 L372.8,67.9 L373.0,72.0 L373.2,76.1 L373.5,80.4 L373.8,84.9 L374.0,90.0 L374.2,96.6 L374.5,104.0 L374.8,110.1 L375.0,114.2 L375.2,117.9 L375.5,121.0 L375.8,123.2 L376.0,124.0" stroke="#4e342a" stroke-width="4.4" stroke-dasharray="23.5 18 15 3 21 300" stroke-dashoffset="0.0" stroke-linejoin="bevel" fill="none"/>
<path d="M376.0,124.0 L376.2,123.7 L376.5,122.7 L376.8,121.4 L377.0,119.9 L377.2,118.3 L377.5,116.7 L377.8,114.8 L378.0,112.6 L378.2,110.3 L378.5,108.0 L378.8,105.4 L379.0,102.5 L379.2,99.4 L379.5,96.2 L379.8,93.2 L380.0,90.3 L380.2,87.9 L380.5,86.0 L380.8,84.4 L381.0,82.8 L381.2,81.5 L381.5,80.5 L381.8,80.0 L382.0,80.5 L382.2,82.3 L382.5,84.8 L382.8,87.5 L383.0,90.0 L383.2,92.6 L383.5,95.6 L383.8,98.0 L384.0,99.0 L384.2,97.9 L384.5,95.4 L384.8,92.4 L385.0,90.0 L385.2,88.4 L385.5,86.9 L385.8,85.6 L386.0,84.3 L386.2,83.1 L386.5,82.0 L386.8,80.9 L387.0,79.9 L387.2,78.9 L387.5,77.9 L387.8,77.0 L388.0,76.0 L388.2,75.1 L388.5,74.2 L388.8,73.3 L389.0,72.5 L389.2,71.5 L389.5,70.5 L389.8,69.3 L390.0,67.6 L390.2,65.1 L390.5,62.2 L390.8,59.2 L391.0,56.6 L391.2,54.7 L391.5,54.0 L391.8,54.2 L392.0,54.6 L392.2,55.3 L392.5,56.2 L392.8,57.1 L393.0,58.0 L393.2,59.0 L393.5,60.2 L393.8,61.5 L394.0,63.0 L394.2,64.6 L394.5,66.3 L394.8,68.2 L395.0,70.3 L395.2,72.7 L395.5,75.3 L395.8,78.2 L396.0,81.4 L396.2,85.3 L396.5,89.8 L396.8,94.5 L397.0,98.6 L397.2,101.8 L397.5,104.4 L397.8,106.8 L398.0,109.6 L398.2,113.2 L398.5,118.8 L398.8,129.3 L399.0,136.9 L399.2,142.3 L399.5,146.7 L399.8,150.5 L400.0,154.1 L400.2,157.7 L400.5,161.5 L400.8,165.9 L401.0,171.3 L401.2,178.4 L401.5,186.3 L401.8,193.9 L402.0,200.1 L402.2,204.4 L402.5,208.1 L402.8,211.4 L403.0,214.4 L403.2,217.2 L403.5,219.7 L403.8,222.1 L404.0,224.4 L404.2,226.5 L404.5,228.7 L404.8,230.8 L405.0,233.0 L405.2,235.2 L405.5,237.3 L405.8,239.3 L406.0,241.2 L406.2,243.1 L406.5,245.0 L406.8,246.8 L407.0,248.5 L407.2,250.3 L407.5,252.0 L407.8,253.7 L408.0,255.5 L408.2,257.2 L408.5,259.0 L408.8,260.8 L409.0,262.7 L409.2,264.6 L409.5,266.6 L409.8,268.6 L410.0,270.6 L410.2,272.7 L410.5,274.7 L410.8,276.8 L411.0,278.9 L411.2,281.0 L411.5,283.1 L411.8,285.2 L412.0,287.3 L412.2,289.4 L412.5,291.4 L412.8,293.4 L413.0,295.4 L413.2,297.4 L413.5,299.3 L413.8,301.3 L414.0,303.2 L414.2,305.1 L414.5,307.0 L414.8,308.9 L415.0,310.8 L415.2,312.7 L415.5,314.5 L415.8,316.4 L416.0,318.2 L416.2,320.0 L416.5,321.8 L416.8,323.5 L417.0,325.3 L417.2,327.0 L417.5,328.7 L417.8,330.3 L418.0,332.0 L418.2,333.7 L418.5,335.3 L418.8,337.0 L419.0,338.6 L419.2,340.2 L419.5,341.8 L419.8,343.4 L420.0,345.0 L420.2,346.5 L420.5,348.0 L420.8,349.5 L421.0,351.0 L421.2,352.4 L421.5,353.8 L421.8,355.1 L422.0,356.5 L422.2,357.7 L422.5,359.0 L422.8,360.2 L423.0,361.4 L423.2,362.5 L423.5,363.6 L423.8,364.7 L424.0,365.8 L424.2,366.8 L424.5,367.9 L424.8,368.9 L425.0,369.9 L425.2,370.9 L425.5,371.9 L425.8,373.0 L426.0,374.0 L426.2,375.0 L426.5,376.1 L426.8,377.2 L427.0,378.2 L427.2,379.3 L427.5,380.3 L427.8,381.4 L428.0,382.4 L428.2,383.4 L428.5,384.4 L428.8,385.4 L429.0,386.4 L429.2,387.3 L429.5,388.1 L429.8,389.0 L430.0,389.8 L430.2,390.6 L430.5,391.3 L430.8,392.1 L431.0,392.8 L431.2,393.6 L431.5,394.3 L431.8,394.9 L432.0,395.6 L432.2,396.2 L432.5,396.8 L432.8,397.4 L433.0,398.0 L433.2,398.5 L433.5,399.1 L433.8,399.6 L434.0,400.1 L434.2,400.6 L434.5,401.1 L434.8,401.6 L435.0,402.1 L435.2,402.6 L435.5,403.0 L435.8,403.5 L436.0,403.9 L436.2,404.3 L436.5,404.7 L436.8,405.1 L437.0,405.5 L437.2,405.9 L437.5,406.3 L437.8,406.6 L438.0,407.0 L438.2,407.3 L438.5,407.7 L438.8,408.0 L439.0,408.3 L439.2,408.6 L439.5,408.9 L439.8,409.2 L440.0,409.4 L440.2,409.7 L440.5,410.0 L440.8,410.2 L441.0,410.5 L441.2,410.8 L441.5,411.0 L441.8,411.3 L442.0,411.5 L442.2,411.8 L442.5,412.1 L442.8,412.3 L443.0,412.6 L443.2,412.9 L443.5,413.1 L443.8,413.4 L444.0,413.7 L444.2,414.0 L444.5,414.2 L444.8,414.5 L445.0,414.7 L445.2,415.0 L445.5,415.3 L445.8,415.5 L446.0,415.8 L446.2,416.1 L446.5,416.3 L446.8,416.6 L447.0,416.9 L447.2,417.2 L447.5,417.4 L447.8,417.7 L448.0,418.0 L448.2,418.3 L448.5,418.6 L448.8,418.9 L449.0,419.2 L449.2,419.5 L449.5,419.9 L449.8,420.2 L450.0,420.6 L450.2,420.9 L450.5,421.2 L450.8,421.6 L451.0,421.9 L451.2,422.3 L451.5,422.6 L451.8,423.0 L452.0,423.3" stroke="#4e342a" stroke-width="4.4" stroke-dasharray="15.5 16.5" stroke-dashoffset="6.3" stroke-linejoin="bevel" fill="none"/>
<path d="M452.0,423.3 L452.2,423.6 L452.5,424.0 L452.8,424.3 L453.0,424.6 L453.2,424.9 L453.5,425.2 L453.8,425.5 L454.0,425.7 L454.2,426.0 L454.5,426.2 L454.8,426.4 L455.0,426.6 L455.2,426.8 L455.5,427.0 L455.8,427.2 L456.0,427.3 L456.2,427.4 L456.5,427.6 L456.8,427.7 L457.0,427.8 L457.2,428.0 L457.5,428.1 L457.8,428.2 L458.0,428.3 L458.2,428.4 L458.5,428.5 L458.8,428.6 L459.0,428.7 L459.2,428.8 L459.5,428.9 L459.8,429.0 L460.0,429.1 L460.2,429.1 L460.5,429.2 L460.8,429.3 L461.0,429.4 L461.2,429.5 L461.5,429.6 L461.8,429.7 L462.0,429.8 L462.2,429.9 L462.5,430.0 L462.8,430.1 L463.0,430.2 L463.2,430.3 L463.5,430.5 L463.8,430.6 L464.0,430.7 L464.2,430.8 L464.5,431.0 L464.8,431.1 L465.0,431.2 L465.2,431.4 L465.5,431.5 L465.8,431.6 L466.0,431.8 L466.2,431.9 L466.5,432.0 L466.8,432.1 L467.0,432.2 L467.2,432.3 L467.5,432.4 L467.8,432.5 L468.0,432.6 L468.2,432.6 L468.5,432.7 L468.8,432.7 L469.0,432.8 L469.2,432.8 L469.5,432.8 L469.8,432.8 L470.0,432.8 L470.2,432.7 L470.5,432.7 L470.8,432.6 L471.0,432.6 L471.2,432.5 L471.5,432.4 L471.8,432.3 L472.0,432.2 L472.2,432.0 L472.5,431.9 L472.8,431.8 L473.0,431.6 L473.2,431.5 L473.5,431.3 L473.8,431.2 L474.0,431.0 L474.2,430.8 L474.5,430.4 L474.8,430.0 L475.0,429.5 L475.2,429.0 L475.5,428.4 L475.8,427.8 L476.0,427.2 L476.2,426.6 L476.5,426.0 L476.8,425.4 L477.0,425.0 L477.2,424.6 L477.5,424.3 L477.8,424.1 L478.0,424.0 L478.2,424.0 L478.5,424.0 L478.8,424.0 L479.0,424.1 L479.2,424.1 L479.5,424.2 L479.8,424.2 L480.0,424.3 L480.2,424.4 L480.5,424.5 L480.8,424.6 L481.0,424.7 L481.2,424.7 L481.5,424.8 L481.8,425.0 L482.0,425.1 L482.2,425.2 L482.5,425.3 L482.8,425.4 L483.0,425.5 L483.2,425.6 L483.5,425.8 L483.8,425.9 L484.0,426.1 L484.2,426.2 L484.5,426.4 L484.8,426.6 L485.0,426.8 L485.2,427.0 L485.5,427.3 L485.8,427.5 L486.0,427.7 L486.2,428.0 L486.5,428.2 L486.8,428.5 L487.0,428.8 L487.2,429.0 L487.5,429.3 L487.8,429.6 L488.0,429.8 L488.2,430.1 L488.5,430.4 L488.8,430.7 L489.0,431.0 L489.2,431.4 L489.5,431.8 L489.8,432.2 L490.0,432.6 L490.2,433.1 L490.5,433.5 L490.8,433.9 L491.0,434.4 L491.2,434.8 L491.5,435.2 L491.8,435.6 L492.0,435.9 L492.2,436.3 L492.5,436.6 L492.8,436.8 L493.0,437.0 L493.2,437.2 L493.5,437.3 L493.8,437.5 L494.0,437.6 L494.2,437.8 L494.5,437.9 L494.8,438.1 L495.0,438.2 L495.2,438.3 L495.5,438.5 L495.8,438.6 L496.0,438.7 L496.2,438.8 L496.5,438.9 L496.8,439.0 L497.0,439.1 L497.2,439.2 L497.5,439.3 L497.8,439.4 L498.0,439.5 L498.2,439.6 L498.5,439.6 L498.8,439.7 L499.0,439.8 L499.2,439.8 L499.5,439.9 L499.8,439.9 L500.0,440.0 L500.2,440.0 L500.5,440.1 L500.8,440.1 L501.0,440.2 L501.2,440.2 L501.5,440.3 L501.8,440.3 L502.0,440.3 L502.2,440.4 L502.5,440.4 L502.8,440.4 L503.0,440.5 L503.2,440.5 L503.5,440.5 L503.8,440.6 L504.0,440.6 L504.2,440.6 L504.5,440.6 L504.8,440.7 L505.0,440.7 L505.2,440.7 L505.5,440.7 L505.8,440.8 L506.0,440.8" stroke="#4e342a" stroke-width="4.4" stroke-dasharray="15.5 16.5" stroke-dashoffset="26.9" stroke-linejoin="bevel" fill="none"/>
<path d="M503.0,438.4 L507.0,439.6 L511.1,440.5 L515.1,441.2 L519.1,441.7 M534.9,443.5 L538.9,443.9 L542.9,444.3 L547.0,444.7 L551.0,445.2 M566.8,446.8 L570.8,447.3 L574.8,447.7 L578.8,448.1 L582.9,448.5 M598.6,450.2 L602.6,450.6 L606.7,451.0 L610.7,451.3 L614.7,451.7 M630.5,453.1 L634.5,453.4 L638.5,453.6 L642.6,453.8 L646.6,454.0 M662.4,454.7 L666.4,454.8 L670.4,454.9 L674.5,455.0 L678.5,455.1 M694.2,455.4 L698.3,455.4 L702.3,455.4 L706.3,455.4 L710.4,455.4 M726.1,455.4 L730.1,455.4 L734.2,455.4 L738.2,455.4 L742.2,455.4 M758.0,455.4 L762.0,455.4 L766.0,455.4 L770.1,455.4 L774.1,455.4 M789.9,455.4 L793.9,455.4 L797.9,455.4 L802.0,455.4 L806.0,455.4 M821.8,455.4 L825.8,455.4 L829.8,455.4 L833.8,455.4 L837.9,455.4 M853.6,455.4 L857.6,455.4 L861.7,455.4 L865.7,455.4 L869.7,455.4 M885.5,455.4 L889.5,455.4 L893.5,455.4 L897.6,455.4 L901.6,455.4 M917.4,455.4 L920.0,455.4 L922.7,455.4 L925.3,455.4 L928.0,455.4" stroke="#fb9b1f" stroke-width="4.3" fill="none"/>
<path d="M512.2,439.9 L516.0,440.4 M520.2,440.9 L524.0,441.3 M528.1,441.7 L531.9,442.1 M536.1,442.4 L539.9,442.8 M544.1,443.2 L547.9,443.6 M552.0,444.0 L555.8,444.3 M560.0,444.8 L563.8,445.2 M567.9,445.6 L571.7,446.0 M575.9,446.5 L579.7,446.9 M583.9,447.4 L587.7,447.8 M591.8,448.2 L595.6,448.5 M599.8,448.9 L603.6,449.2 M607.8,449.5 L611.6,449.8 M615.7,450.1 L619.5,450.4 M623.7,450.8 L627.5,451.1 M631.6,451.5 L635.4,451.9 M639.6,452.2 L643.4,452.4 M647.6,452.7 L651.4,452.9 M655.5,453.2 L659.3,453.3 M663.5,453.4 L667.3,453.5 M671.5,453.6 L675.3,453.7 M679.4,453.8 L683.2,453.9 M687.4,454.0 L691.2,454.0 M695.3,454.1 L699.1,454.2 M703.3,454.2 L707.1,454.3 M711.3,454.4 L715.1,454.4 M719.2,454.5 L723.0,454.5 M727.2,454.6 L731.0,454.7 M735.2,454.7 L739.0,454.8 M743.1,454.9 L746.9,454.9 M751.1,455.0 L754.9,455.0 M759.1,455.0 L762.9,455.0 M767.0,455.0 L770.8,455.0 M775.0,455.0 L778.8,455.0 M782.9,455.0 L786.7,455.0 M790.9,455.0 L794.7,455.0 M798.9,455.0 L802.7,455.0 M806.8,455.1 L810.6,455.1 M814.8,455.1 L818.6,455.1 M822.8,455.1 L826.6,455.1 M830.7,455.1 L834.5,455.1 M838.7,455.1 L842.5,455.1 M846.6,455.1 L850.4,455.1 M854.6,455.1 L858.4,455.1 M862.6,455.1 L866.4,455.1 M870.5,455.1 L874.3,455.1 M878.5,455.1 L882.3,455.1 M886.5,455.1 L890.3,455.1 M894.4,455.1 L898.2,455.1 M902.4,455.1 L906.2,455.1 M910.3,455.1 L914.1,455.1 M918.3,455.1 L922.1,455.1 M926.3,455.1 L928.0,455.1" stroke="#646464" stroke-width="4.0" fill="none"/>
<path d="M93.0,453.0 L93.5,452.2 L94.0,451.4 L94.5,450.6 L95.0,449.7 L95.5,448.8 L96.0,447.9 L96.5,447.0 L97.0,446.1 L97.5,445.1 L98.0,444.1 L98.5,443.0 L99.0,441.9 L99.5,440.8 L100.0,439.7 L100.5,438.5 L101.0,437.2 L101.5,436.0 L102.0,434.6 L102.5,433.3 L103.0,431.9 L103.5,430.4 L104.0,428.8 L104.5,427.1 L105.0,425.5 L105.5,423.9 L106.0,422.6 L106.5,421.4 L107.0,420.2 L107.5,419.0 L108.0,418.0 L108.5,417.1 L109.0,416.4 L109.5,415.9 L110.0,415.4 L110.5,414.9 L111.0,414.5 L111.5,414.1 L112.0,413.8 L112.5,413.7 L113.0,413.6 L113.5,413.5 L114.0,413.5 L114.5,413.5 L115.0,413.4 L115.5,413.4 L116.0,413.4 L116.5,413.4 L117.0,413.4 L117.5,413.3 L118.0,413.3 L118.5,413.3 L119.0,413.3 L119.5,413.3 L120.0,413.3 L120.5,413.2 L121.0,413.2 L121.5,413.2 L122.0,413.2 L122.5,413.2 L123.0,413.2 L123.5,413.2 L124.0,413.2 L124.5,413.1 L125.0,413.1 L125.5,413.1 L126.0,413.0 L126.5,413.0 L127.0,412.9 L127.5,412.9 L128.0,412.8 L128.5,412.7 L129.0,412.6 L129.5,412.5 L130.0,412.4 L130.5,412.3 L131.0,412.2 L131.5,412.0 L132.0,411.9 L132.5,411.8 L133.0,411.7 L133.5,411.6 L134.0,411.5 L134.5,411.4 L135.0,411.2 L135.5,411.1 L136.0,411.0 L136.5,410.8 L137.0,410.7 L137.5,410.5 L138.0,410.4 L138.5,410.2 L139.0,410.0 L139.5,409.9 L140.0,409.7 L140.5,409.5 L141.0,409.3 L141.5,409.1 L142.0,408.9 L142.5,408.7 L143.0,408.5 L143.5,408.3 L144.0,408.0 L144.5,407.8 L145.0,407.5 L145.5,407.3 L146.0,407.0 L146.5,406.8 L147.0,406.5 L147.5,406.2 L148.0,405.9 L148.5,405.6 L149.0,405.3 L149.5,405.0 L150.0,404.7 L150.5,404.3 L151.0,404.0 L151.5,403.6 L152.0,403.3 L152.5,402.9 L153.0,402.5 L153.5,402.1 L154.0,401.7 L154.5,401.3 L155.0,400.9 L155.5,400.5 L156.0,400.0 L156.5,399.6 L157.0,399.1 L157.5,398.6 L158.0,398.1 L158.5,397.5 L159.0,397.0 L159.5,396.5 L160.0,395.9 L160.5,395.3 L161.0,394.8 L161.5,394.2 L162.0,393.6 L162.5,393.0 L163.0,392.4 L163.5,391.8 L164.0,391.2 L164.5,390.5 L165.0,389.9 L165.5,389.2 L166.0,388.5 L166.5,387.9 L167.0,387.2 L167.5,386.5 L168.0,385.8 L168.5,385.1 L169.0,384.5 L169.5,383.8 L170.0,383.1 L170.5,382.4 L171.0,381.7 L171.5,381.0 L172.0,380.3 L172.5,379.5 L173.0,378.8 L173.5,378.0 L174.0,377.3 L174.5,376.5 L175.0,375.7 L175.5,374.8 L176.0,374.0 L176.5,373.1 L177.0,372.2 L177.5,371.3 L178.0,370.4 L178.5,369.5 L179.0,368.5 L179.5,367.6 L180.0,366.7 L180.5,365.7 L181.0,364.8 L181.5,363.9 L182.0,362.9 L182.5,362.0 L183.0,361.1 L183.5,360.2 L184.0,359.2 L184.5,358.3 L185.0,357.3 L185.5,356.3 L186.0,355.4 L186.5,354.4 L187.0,353.4 L187.5,352.4 L188.0,351.4 L188.5,350.4 L189.0,349.4 L189.5,348.4 L190.0,347.3 L190.5,346.3 L191.0,345.2 L191.5,344.1 L192.0,343.0 L192.5,341.9 L193.0,340.7 L193.5,339.5 L194.0,338.2 L194.5,336.9 L195.0,335.5 L195.5,334.1 L196.0,332.7 L196.5,331.3 L197.0,330.0 L197.5,328.7 L198.0,327.4 L198.5,326.2 L199.0,324.9 L199.5,323.7 L200.0,322.5 L200.5,321.2 L201.0,320.0 L201.5,318.8 L202.0,317.5 L202.5,316.3 L203.0,315.0 L203.5,313.8 L204.0,312.6 L204.5,311.4 L205.0,310.2 L205.5,309.0 L206.0,307.9 L206.5,306.7 L207.0,305.6 L207.5,304.4 L208.0,303.4 L208.5,302.4 L209.0,301.4 L209.5,300.5 L210.0,299.7 L210.5,298.9 L211.0,298.2 L211.5,297.6 L212.0,297.0 L212.5,296.4 L213.0,295.9 L213.5,295.6 L214.0,295.3 L214.5,295.1 L215.0,294.9 L215.5,294.7 L216.0,294.6 L216.5,294.6 L217.0,294.6 L217.5,294.8 L218.0,295.0 L218.5,295.2 L219.0,295.5 L219.5,295.8 L220.0,296.2 L220.5,296.8 L221.0,297.4 L221.5,298.1 L222.0,298.8 L222.5,299.6 L223.0,300.6 L223.5,301.7 L224.0,302.9 L224.5,304.2 L225.0,305.5 L225.5,306.8 L226.0,308.2 L226.5,309.7 L227.0,311.3 L227.5,312.9 L228.0,314.6 L228.5,316.4 L229.0,318.2 L229.5,320.2 L230.0,322.4 L230.5,324.8 L231.0,327.4 L231.5,329.9 L232.0,332.5 L232.5,334.8 L233.0,337.0 L233.5,339.0 L234.0,340.8 L234.5,342.6 L235.0,344.4 L235.5,346.1 L236.0,347.7 L236.5,349.3 L237.0,351.0 L237.5,352.6 L238.0,354.1 L238.5,355.6 L239.0,357.1 L239.5,358.6 L240.0,360.1 L240.5,361.5 L241.0,363.0 L241.5,364.5 L242.0,366.0 L242.5,367.5 L243.0,369.1 L243.5,370.6 L244.0,372.1 L244.5,373.6 L245.0,375.1 L245.5,376.6 L246.0,378.0 L246.5,379.3 L247.0,380.7 L247.5,382.0 L248.0,383.3 L248.5,384.6 L249.0,385.8 L249.5,387.1 L250.0,388.2 L250.5,389.3 L251.0,390.4 L251.5,391.4 L252.0,392.4 L252.5,393.3 L253.0,394.2 L253.5,395.1 L254.0,396.0 L254.5,396.8 L255.0,397.6 L255.5,398.4 L256.0,399.2 L256.5,399.9 L257.0,400.6 L257.5,401.3 L258.0,401.9 L258.5,402.5 L259.0,403.1 L259.5,403.7 L260.0,404.3 L260.5,404.9 L261.0,405.4 L261.5,405.9 L262.0,406.4 L262.5,406.9 L263.0,407.4 L263.5,407.9 L264.0,408.4 L264.5,408.8 L265.0,409.3 L265.5,409.7 L266.0,410.2 L266.5,410.6 L267.0,411.0 L267.5,411.5 L268.0,411.9 L268.5,412.3 L269.0,412.7 L269.5,413.0 L270.0,413.4 L270.5,413.7 L271.0,414.0 L271.5,414.3 L272.0,414.6 L272.5,414.8 L273.0,415.1 L273.5,415.3 L274.0,415.5 L274.5,415.7 L275.0,415.9 L275.5,416.1 L276.0,416.3 L276.5,416.5 L277.0,416.7 L277.5,416.8 L278.0,417.0 L278.5,417.1 L279.0,417.3 L279.5,417.4 L280.0,417.6 L280.5,417.7 L281.0,417.8 L281.5,417.9 L282.0,418.1 L282.5,418.2 L283.0,418.3 L283.5,418.4 L284.0,418.5 L284.5,418.6 L285.0,418.7 L285.5,418.8 L286.0,418.9 L286.5,419.0 L287.0,419.1 L287.5,419.2 L288.0,419.2 L288.5,419.3 L289.0,419.4 L289.5,419.4 L290.0,419.4 L290.5,419.5 L291.0,419.5 L291.5,419.5 L292.0,419.6 L292.5,419.6 L293.0,419.6 L293.5,419.7 L294.0,419.7 L294.5,419.7 L295.0,419.7 L295.5,419.7 L296.0,419.7 L296.5,419.7 L297.0,419.7 L297.5,419.6 L298.0,419.6 L298.5,419.6 L299.0,419.5 L299.5,419.4 L300.0,419.4 L300.5,419.3 L301.0,419.2 L301.5,419.1 L302.0,419.1 L302.5,419.0 L303.0,418.9 L303.5,418.8 L304.0,418.7 L304.5,418.6 L305.0,418.5 L305.5,418.3 L306.0,418.2 L306.5,418.0 L307.0,417.8 L307.5,417.6 L308.0,417.3 L308.5,417.1 L309.0,416.8 L309.5,416.6 L310.0,416.3 L310.5,416.0 L311.0,415.7 L311.5,415.5 L312.0,415.2 L312.5,414.9 L313.0,414.6 L313.5,414.3 L314.0,413.9 L314.5,413.6 L315.0,413.2 L315.5,412.9 L316.0,412.5 L316.5,412.1 L317.0,411.7 L317.5,411.3 L318.0,410.9 L318.5,410.4 L319.0,410.0 L319.5,409.5 L320.0,409.0 L320.5,408.5 L321.0,408.0 L321.5,407.5 L322.0,406.9 L322.5,406.4 L323.0,405.8 L323.5,405.2 L324.0,404.5 L324.5,403.9 L325.0,403.3 L325.5,402.6 L326.0,401.9 L326.5,401.3 L327.0,400.6 L327.5,399.9 L328.0,399.3 L328.5,398.6 L329.0,397.9 L329.5,397.2 L330.0,396.4 L330.5,395.6 L331.0,394.8 L331.5,393.9 L332.0,393.0 L332.5,392.0 L333.0,390.9 L333.5,389.5 L334.0,388.0 L334.5,386.2 L335.0,384.4 L335.5,382.6 L336.0,380.8 L336.5,379.2 L337.0,377.5 L337.5,375.8 L338.0,374.1 L338.5,372.3 L339.0,370.7 L339.5,369.0 L340.0,367.4 L340.5,365.8 L341.0,364.1 L341.5,362.4 L342.0,360.7 L342.5,358.8 L343.0,356.8 L343.5,354.6 L344.0,352.3 L344.5,349.8 L345.0,347.2 L345.5,344.6 L346.0,341.9 L346.5,339.1 L347.0,336.4 L347.5,333.6 L348.0,330.8 L348.5,327.8 L349.0,324.7 L349.5,321.4 L350.0,317.8 L350.5,314.1 L351.0,310.0 L351.5,305.7 L352.0,301.0 L352.5,295.8 L353.0,289.7 L353.5,282.9 L354.0,275.8 L354.5,268.8 L355.0,262.1 L355.5,256.1 L356.0,251.1 L356.5,246.7 L357.0,242.1 L357.5,236.5 L358.0,229.9 L358.5,222.7 L359.0,215.4 L359.5,208.3 L360.0,201.4 L360.5,194.6 L361.0,187.5 L361.5,180.0 L362.0,172.1 L362.5,163.8 L363.0,154.8 L363.5,144.6 L364.0,131.2 L364.5,116.9 L365.0,104.8 L365.5,97.7 L366.0,93.3 L366.5,89.7 L367.0,86.1 L367.5,82.0 L368.0,78.2 L368.5,75.3 L369.0,73.3 L369.5,71.5 L370.0,70.1 L370.5,69.1 L371.0,68.3 L371.5,67.6 L372.0,67.1 L372.5,66.8 L373.0,66.6 L373.5,66.3 L374.0,66.2 L374.5,66.2 L375.0,66.3 L375.5,66.4 L376.0,66.5 L376.5,66.7 L377.0,66.9 L377.5,67.1 L378.0,67.3 L378.5,67.6 L379.0,67.9 L379.5,68.3 L380.0,68.8 L380.5,69.4 L381.0,69.9 L381.5,70.6 L382.0,71.2 L382.5,71.8 L383.0,72.4 L383.5,72.9 L384.0,73.5 L384.5,74.0 L385.0,74.6 L385.5,75.2 L386.0,75.8 L386.5,76.4 L387.0,77.0 L387.5,77.6 L388.0,78.2 L388.5,78.8 L389.0,79.3 L389.5,79.9 L390.0,80.5 L390.5,81.0 L391.0,81.5 L391.5,82.1 L392.0,82.6 L392.5,83.1 L393.0,83.7 L393.5,84.2 L394.0,84.7 L394.5,85.3 L395.0,85.8 L395.5,86.4 L396.0,86.9 L396.5,87.5 L397.0,88.0 L397.5,88.5 L398.0,89.1 L398.5,89.8 L399.0,90.7 L399.5,91.8 L400.0,93.0 L400.5,94.4 L401.0,96.2 L401.5,98.0 L402.0,100.7 L402.5,106.1 L403.0,113.4 L403.5,120.7 L404.0,127.0 L404.5,133.1 L405.0,139.1 L405.5,145.3 L406.0,151.5 L406.5,157.9 L407.0,164.3 L407.5,170.8 L408.0,177.4 L408.5,184.0 L409.0,190.8 L409.5,197.7 L410.0,204.5 L410.5,211.0 L411.0,217.3 L411.5,223.6 L412.0,229.7 L412.5,235.6 L413.0,241.1 L413.5,246.0 L414.0,251.2 L414.5,257.1 L415.0,263.3 L415.5,269.4 L416.0,275.0 L416.5,279.9 L417.0,284.3 L417.5,288.6 L418.0,293.1 L418.5,297.9 L419.0,303.8 L419.5,310.7 L420.0,317.0 L420.5,321.6 L421.0,325.3 L421.5,328.4 L422.0,331.2 L422.5,333.9 L423.0,336.5 L423.5,339.1 L424.0,341.9 L424.5,344.5 L425.0,347.1 L425.5,349.6 L426.0,352.1 L426.5,354.5 L427.0,356.8 L427.5,359.0 L428.0,361.1 L428.5,363.2 L429.0,365.2 L429.5,367.2 L430.0,369.1 L430.5,370.9 L431.0,372.7 L431.5,374.4 L432.0,375.9 L432.5,377.5 L433.0,379.0 L433.5,380.7 L434.0,382.3 L434.5,384.0 L435.0,385.7 L435.5,387.4 L436.0,389.0 L436.5,390.5 L437.0,391.9 L437.5,393.3 L438.0,394.6 L438.5,395.9 L439.0,397.1 L439.5,398.3 L440.0,399.4 L440.5,400.5 L441.0,401.5 L441.5,402.5 L442.0,403.4 L442.5,404.3 L443.0,405.1 L443.5,406.0 L444.0,406.8 L444.5,407.5 L445.0,408.3 L445.5,409.0 L446.0,409.7 L446.5,410.4 L447.0,411.1 L447.5,411.8 L448.0,412.4 L448.5,413.0 L449.0,413.6 L449.5,414.2 L450.0,414.8 L450.5,415.3 L451.0,415.9 L451.5,416.4 L452.0,416.9 L452.5,417.4 L453.0,417.9 L453.5,418.4 L454.0,418.8 L454.5,419.2 L455.0,419.6 L455.5,420.0 L456.0,420.3 L456.5,420.7 L457.0,421.0 L457.5,421.4 L458.0,421.7 L458.5,422.0 L459.0,422.4 L459.5,422.7 L460.0,423.0 L460.5,423.3 L461.0,423.7 L461.5,424.0 L462.0,424.3 L462.5,424.6 L463.0,425.0 L463.5,425.3 L464.0,425.6 L464.5,425.9 L465.0,426.2 L465.5,426.5 L466.0,426.8 L466.5,427.1 L467.0,427.4 L467.5,427.7 L468.0,428.0 L468.5,428.2 L469.0,428.5 L469.5,428.7 L470.0,428.9 L470.5,429.1 L471.0,429.4 L471.5,429.6 L472.0,429.8 L472.5,430.0 L473.0,430.1 L473.5,430.3 L474.0,430.5 L474.5,430.7 L475.0,430.9 L475.5,431.0 L476.0,431.2 L476.5,431.4 L477.0,431.5 L477.5,431.7 L478.0,431.8 L478.5,431.9 L479.0,432.1 L479.5,432.2 L480.0,432.3 L480.5,432.5 L481.0,432.6 L481.5,432.7 L482.0,432.8 L482.5,433.0 L483.0,433.1 L483.5,433.2 L484.0,433.3 L484.5,433.4 L485.0,433.5 L485.5,433.6 L486.0,433.7 L486.5,433.8 L487.0,433.9 L487.5,434.0 L488.0,434.1 L488.5,434.2 L489.0,434.3 L489.5,434.3 L490.0,434.4 L490.5,434.5 L491.0,434.6 L491.5,434.7 L492.0,434.8 L492.5,434.9 L493.0,434.9 L493.5,435.0 L494.0,435.1 L494.5,435.2 L495.0,435.3 L495.5,435.3 L496.0,435.4 L496.5,435.5 L497.0,435.6 L497.5,435.6 L498.0,435.7 L498.5,435.8 L499.0,435.8 L499.5,435.9 L500.0,436.0 L500.5,436.0 L501.0,436.1 L501.5,436.2 L502.0,436.2 L502.5,436.3 L503.0,436.3 L503.5,436.4 L504.0,436.5 L504.5,436.5 L505.0,436.6 L505.5,436.6 L506.0,436.7 L506.5,436.7 L507.0,436.8 L507.5,436.8 L508.0,436.9 L508.5,436.9 L509.0,437.0 L509.5,437.0 L510.0,437.1 L510.5,437.1 L511.0,437.2 L511.5,437.2 L512.0,437.3 L512.5,437.3 L513.0,437.4 L513.5,437.4 L514.0,437.5 L514.5,437.5 L515.0,437.5 L515.5,437.6 L516.0,437.6 L516.5,437.7 L517.0,437.7 L517.5,437.8 L518.0,437.8 L518.5,437.9 L519.0,437.9 L519.5,437.9 L520.0,438.0 L520.5,438.0 L521.0,438.1 L521.5,438.1 L522.0,438.2 L522.5,438.2 L523.0,438.2 L523.5,438.3 L524.0,438.3 L524.5,438.4 L525.0,438.4 L525.5,438.5 L526.0,438.5 L526.5,438.5 L527.0,438.6 L527.5,438.6 L528.0,438.7 L528.5,438.7 L529.0,438.7 L529.5,438.8 L530.0,438.8 L530.5,438.9 L531.0,438.9 L531.5,438.9 L532.0,439.0 L532.5,439.0 L533.0,439.1 L533.5,439.1 L534.0,439.1 L534.5,439.2 L535.0,439.2 L535.5,439.3 L536.0,439.3 L536.5,439.3 L537.0,439.4 L537.5,439.4 L538.0,439.5 L538.5,439.5 L539.0,439.5 L539.5,439.6 L540.0,439.6 L540.5,439.6 L541.0,439.7 L541.5,439.7 L542.0,439.8 L542.5,439.8 L543.0,439.8 L543.5,439.9 L544.0,439.9 L544.5,440.0 L545.0,440.0 L545.5,440.0 L546.0,440.1 L546.5,440.1 L547.0,440.2 L547.5,440.2 L548.0,440.3 L548.5,440.3 L549.0,440.3 L549.5,440.4 L550.0,440.4 L550.5,440.5 L551.0,440.5 L551.5,440.6 L552.0,440.6 L552.5,440.6 L553.0,440.7 L553.5,440.7 L554.0,440.8 L554.5,440.8 L555.0,440.9 L555.5,440.9 L556.0,441.0 L556.5,441.0 L557.0,441.1 L557.5,441.1 L558.0,441.1 L558.5,441.2 L559.0,441.2 L559.5,441.3 L560.0,441.3 L560.5,441.4 L561.0,441.4 L561.5,441.5 L562.0,441.5 L562.5,441.6 L563.0,441.6 L563.5,441.7 L564.0,441.7 L564.5,441.8 L565.0,441.8 L565.5,441.9 L566.0,441.9 L566.5,442.0 L567.0,442.0 L567.5,442.1 L568.0,442.1 L568.5,442.2 L569.0,442.2 L569.5,442.3 L570.0,442.3 L570.5,442.4 L571.0,442.4 L571.5,442.5 L572.0,442.5 L572.5,442.6 L573.0,442.6 L573.5,442.7 L574.0,442.7 L574.5,442.8 L575.0,442.8 L575.5,442.9 L576.0,442.9 L576.5,443.0 L577.0,443.0 L577.5,443.1 L578.0,443.1 L578.5,443.2 L579.0,443.2 L579.5,443.3 L580.0,443.3 L580.5,443.3 L581.0,443.4 L581.5,443.5 L582.0,443.5 L582.5,443.6 L583.0,443.6 L583.5,443.7 L584.0,443.7 L584.5,443.8 L585.0,443.8 L585.5,443.9 L586.0,443.9 L586.5,444.0 L587.0,444.0 L587.5,444.1 L588.0,444.1 L588.5,444.2 L589.0,444.2 L589.5,444.3 L590.0,444.3 L590.5,444.4 L591.0,444.4 L591.5,444.5 L592.0,444.5 L592.5,444.6 L593.0,444.6 L593.5,444.6 L594.0,444.7 L594.5,444.7 L595.0,444.8 L595.5,444.8 L596.0,444.8 L596.5,444.9 L597.0,444.9 L597.5,445.0 L598.0,445.0 L598.5,445.0 L599.0,445.1 L599.5,445.1 L600.0,445.1 L600.5,445.2 L601.0,445.2 L601.5,445.3 L602.0,445.3 L602.5,445.3 L603.0,445.4 L603.5,445.4 L604.0,445.4 L604.5,445.5 L605.0,445.5 L605.5,445.5 L606.0,445.6 L606.5,445.6 L607.0,445.6 L607.5,445.7 L608.0,445.7 L608.5,445.7 L609.0,445.8 L609.5,445.8 L610.0,445.8 L610.5,445.9 L611.0,445.9 L611.5,445.9 L612.0,446.0 L612.5,446.0 L613.0,446.0 L613.5,446.0 L614.0,446.1 L614.5,446.1 L615.0,446.1 L615.5,446.2 L616.0,446.2 L616.5,446.2 L617.0,446.3 L617.5,446.3 L618.0,446.3 L618.5,446.3 L619.0,446.4 L619.5,446.4 L620.0,446.4 L620.5,446.4 L621.0,446.5 L621.5,446.5 L622.0,446.5 L622.5,446.5 L623.0,446.6 L623.5,446.6 L624.0,446.6 L624.5,446.6 L625.0,446.7 L625.5,446.7 L626.0,446.7 L626.5,446.7 L627.0,446.7 L627.5,446.8 L628.0,446.8 L628.5,446.8 L629.0,446.8 L629.5,446.9 L630.0,446.9 L630.5,446.9 L631.0,446.9 L631.5,446.9 L632.0,447.0 L632.5,447.0 L633.0,447.0 L633.5,447.0 L634.0,447.0 L634.5,447.1 L635.0,447.1 L635.5,447.1 L636.0,447.1 L636.5,447.1 L637.0,447.2 L637.5,447.2 L638.0,447.2 L638.5,447.2 L639.0,447.2 L639.5,447.3 L640.0,447.3 L640.5,447.3 L641.0,447.3 L641.5,447.3 L642.0,447.3 L642.5,447.4 L643.0,447.4 L643.5,447.4 L644.0,447.4 L644.5,447.4 L645.0,447.5 L645.5,447.5 L646.0,447.5 L646.5,447.5 L647.0,447.5 L647.5,447.5 L648.0,447.5 L648.5,447.6 L649.0,447.6 L649.5,447.6 L650.0,447.6 L650.5,447.6 L651.0,447.6 L651.5,447.6 L652.0,447.7 L652.5,447.7 L653.0,447.7 L653.5,447.7 L654.0,447.7 L654.5,447.7 L655.0,447.7 L655.5,447.7 L656.0,447.7 L656.5,447.8 L657.0,447.8 L657.5,447.8 L658.0,447.8 L658.5,447.8 L659.0,447.8 L659.5,447.8 L660.0,447.8 L660.5,447.8 L661.0,447.8 L661.5,447.8 L662.0,447.8 L662.5,447.9 L663.0,447.9 L663.5,447.9 L664.0,447.9 L664.5,447.9 L665.0,447.9 L665.5,447.9 L666.0,447.9 L666.5,447.9 L667.0,447.9 L667.5,447.9 L668.0,447.9 L668.5,447.9 L669.0,447.9 L669.5,448.0 L670.0,448.0 L670.5,448.0 L671.0,448.0 L671.5,448.0 L672.0,448.0 L672.5,448.0 L673.0,448.0 L673.5,448.0 L674.0,448.0 L674.5,448.0 L675.0,448.0 L675.5,448.0 L676.0,448.0 L676.5,448.0 L677.0,448.1 L677.5,448.1 L678.0,448.1 L678.5,448.1 L679.0,448.1 L679.5,448.1 L680.0,448.1 L680.5,448.1 L681.0,448.1 L681.5,448.1 L682.0,448.1 L682.5,448.1 L683.0,448.1 L683.5,448.1 L684.0,448.1 L684.5,448.1 L685.0,448.1 L685.5,448.1 L686.0,448.1 L686.5,448.1 L687.0,448.1 L687.5,448.2 L688.0,448.2 L688.5,448.2 L689.0,448.2 L689.5,448.2 L690.0,448.2 L690.5,448.2 L691.0,448.2 L691.5,448.2 L692.0,448.2 L692.5,448.2 L693.0,448.2 L693.5,448.2 L694.0,448.2 L694.5,448.2 L695.0,448.2 L695.5,448.2 L696.0,448.2 L696.5,448.2 L697.0,448.2 L697.5,448.2 L698.0,448.2 L698.5,448.2 L699.0,448.2 L699.5,448.2 L700.0,448.2 L700.5,448.2 L701.0,448.2 L701.5,448.2 L702.0,448.2 L702.5,448.2 L703.0,448.2 L703.5,448.2 L704.0,448.2 L704.5,448.2 L705.0,448.2 L705.5,448.2 L706.0,448.2 L706.5,448.2 L707.0,448.2 L707.5,448.2 L708.0,448.2 L708.5,448.2 L709.0,448.2 L709.5,448.2 L710.0,448.2 L710.5,448.2 L711.0,448.2 L711.5,448.2 L712.0,448.2 L712.5,448.2 L713.0,448.2 L713.5,448.2 L714.0,448.2 L714.5,448.2 L715.0,448.2 L715.5,448.2 L716.0,448.2 L716.5,448.2 L717.0,448.2 L717.5,448.2 L718.0,448.2 L718.5,448.2 L719.0,448.2 L719.5,448.2 L720.0,448.2 L720.5,448.2 L721.0,448.2 L721.5,448.2 L722.0,448.2 L722.5,448.2 L723.0,448.2 L723.5,448.2 L724.0,448.2 L724.5,448.2 L725.0,448.2 L725.5,448.2 L726.0,448.2 L726.5,448.2 L727.0,448.2 L727.5,448.2 L728.0,448.2 L728.5,448.2 L729.0,448.2 L729.5,448.2 L730.0,448.2 L730.5,448.2 L731.0,448.2 L731.5,448.2 L732.0,448.2 L732.5,448.2 L733.0,448.2 L733.5,448.2 L734.0,448.2 L734.5,448.2 L735.0,448.2 L735.5,448.2 L736.0,448.2 L736.5,448.2 L737.0,448.2 L737.5,448.2 L738.0,448.2 L738.5,448.2 L739.0,448.2 L739.5,448.2 L740.0,448.2 L740.5,448.2 L741.0,448.2 L741.5,448.2 L742.0,448.2 L742.5,448.2 L743.0,448.2 L743.5,448.2 L744.0,448.2 L744.5,448.2 L745.0,448.2 L745.5,448.2 L746.0,448.2 L746.5,448.2 L747.0,448.2 L747.5,448.2 L748.0,448.2 L748.5,448.2 L749.0,448.2 L749.5,448.2 L750.0,448.2 L750.5,448.2 L751.0,448.2 L751.5,448.2 L752.0,448.2 L752.5,448.2 L753.0,448.2 L753.5,448.2 L754.0,448.2 L754.5,448.2 L755.0,448.2 L755.5,448.2 L756.0,448.2 L756.5,448.2 L757.0,448.2 L757.5,448.2 L758.0,448.2 L758.5,448.2 L759.0,448.2 L759.5,448.2 L760.0,448.2 L760.5,448.2 L761.0,448.2 L761.5,448.2 L762.0,448.2 L762.5,448.2 L763.0,448.2 L763.5,448.2 L764.0,448.2 L764.5,448.2 L765.0,448.2 L765.5,448.2 L766.0,448.2 L766.5,448.2 L767.0,448.2 L767.5,448.2 L768.0,448.2 L768.5,448.2 L769.0,448.2 L769.5,448.2 L770.0,448.2 L770.5,448.2 L771.0,448.2 L771.5,448.2 L772.0,448.2 L772.5,448.2 L773.0,448.2 L773.5,448.2 L774.0,448.2 L774.5,448.2 L775.0,448.2 L775.5,448.2 L776.0,448.2 L776.5,448.2 L777.0,448.2 L777.5,448.2 L778.0,448.2 L778.5,448.2 L779.0,448.2 L779.5,448.2 L780.0,448.2 L780.5,448.2 L781.0,448.2 L781.5,448.2 L782.0,448.2 L782.5,448.2 L783.0,448.2 L783.5,448.2 L784.0,448.2 L784.5,448.2 L785.0,448.2 L785.5,448.2 L786.0,448.2 L786.5,448.2 L787.0,448.2 L787.5,448.2 L788.0,448.2 L788.5,448.2 L789.0,448.2 L789.5,448.2 L790.0,448.2 L790.5,448.2 L791.0,448.2 L791.5,448.2 L792.0,448.2 L792.5,448.2 L793.0,448.2 L793.5,448.2 L794.0,448.2 L794.5,448.2 L795.0,448.2 L795.5,448.2 L796.0,448.2 L796.5,448.2 L797.0,448.2 L797.5,448.2 L798.0,448.2 L798.5,448.2 L799.0,448.2 L799.5,448.2 L800.0,448.2 L800.5,448.2 L801.0,448.2 L801.5,448.2 L802.0,448.2 L802.5,448.2 L803.0,448.2 L803.5,448.2 L804.0,448.2 L804.5,448.2 L805.0,448.2 L805.5,448.2 L806.0,448.2 L806.5,448.2 L807.0,448.2 L807.5,448.2 L808.0,448.2 L808.5,448.2 L809.0,448.2 L809.5,448.2 L810.0,448.2 L810.5,448.2 L811.0,448.2 L811.5,448.2 L812.0,448.2 L812.5,448.2 L813.0,448.2 L813.5,448.2 L814.0,448.2 L814.5,448.2 L815.0,448.2 L815.5,448.2 L816.0,448.2 L816.5,448.2 L817.0,448.2 L817.5,448.2 L818.0,448.2 L818.5,448.2 L819.0,448.2 L819.5,448.2 L820.0,448.2 L820.5,448.2 L821.0,448.2 L821.5,448.2 L822.0,448.2 L822.5,448.2 L823.0,448.2 L823.5,448.2 L824.0,448.2 L824.5,448.2 L825.0,448.2 L825.5,448.2 L826.0,448.2 L826.5,448.2 L827.0,448.2 L827.5,448.2 L828.0,448.2 L828.5,448.2 L829.0,448.2 L829.5,448.2 L830.0,448.2 L830.5,448.2 L831.0,448.2 L831.5,448.2 L832.0,448.2 L832.5,448.2 L833.0,448.2 L833.5,448.2 L834.0,448.2 L834.5,448.2 L835.0,448.2 L835.5,448.2 L836.0,448.2 L836.5,448.2 L837.0,448.2 L837.5,448.2 L838.0,448.2 L838.5,448.2 L839.0,448.2 L839.5,448.2 L840.0,448.2 L840.5,448.2 L841.0,448.2 L841.5,448.2 L842.0,448.2 L842.5,448.2 L843.0,448.2 L843.5,448.2 L844.0,448.2 L844.5,448.2 L845.0,448.2 L845.5,448.2 L846.0,448.2 L846.5,448.2 L847.0,448.2 L847.5,448.2 L848.0,448.2 L848.5,448.2 L849.0,448.2 L849.5,448.2 L850.0,448.2 L850.5,448.2 L851.0,448.2 L851.5,448.2 L852.0,448.2 L852.5,448.2 L853.0,448.2 L853.5,448.2 L854.0,448.2 L854.5,448.2 L855.0,448.2 L855.5,448.2 L856.0,448.2 L856.5,448.2 L857.0,448.2 L857.5,448.2 L858.0,448.2 L858.5,448.2 L859.0,448.2 L859.5,448.2 L860.0,448.2 L860.5,448.2 L861.0,448.2 L861.5,448.2 L862.0,448.2 L862.5,448.2 L863.0,448.2 L863.5,448.2 L864.0,448.2 L864.5,448.2 L865.0,448.2 L865.5,448.2 L866.0,448.2 L866.5,448.2 L867.0,448.2 L867.5,448.2 L868.0,448.2 L868.5,448.2 L869.0,448.2 L869.5,448.2 L870.0,448.2 L870.5,448.2 L871.0,448.2 L871.5,448.2 L872.0,448.2 L872.5,448.2 L873.0,448.2 L873.5,448.2 L874.0,448.2 L874.5,448.2 L875.0,448.2 L875.5,448.2 L876.0,448.2 L876.5,448.2 L877.0,448.2 L877.5,448.2 L878.0,448.2 L878.5,448.2 L879.0,448.2 L879.5,448.2 L880.0,448.2 L880.5,448.2 L881.0,448.2 L881.5,448.2 L882.0,448.2 L882.5,448.2 L883.0,448.2 L883.5,448.2 L884.0,448.2 L884.5,448.2 L885.0,448.2 L885.5,448.2 L886.0,448.2 L886.5,448.2 L887.0,448.2 L887.5,448.2 L888.0,448.2 L888.5,448.2 L889.0,448.2 L889.5,448.2 L890.0,448.2 L890.5,448.2 L891.0,448.2 L891.5,448.2 L892.0,448.2 L892.5,448.2 L893.0,448.2 L893.5,448.2 L894.0,448.2 L894.5,448.2 L895.0,448.2 L895.5,448.2 L896.0,448.2 L896.5,448.2 L897.0,448.2 L897.5,448.2 L898.0,448.2 L898.5,448.2 L899.0,448.2 L899.5,448.2 L900.0,448.2 L900.5,448.2 L901.0,448.2 L901.5,448.2 L902.0,448.2 L902.5,448.2 L903.0,448.2 L903.5,448.2 L904.0,448.2 L904.5,448.2 L905.0,448.2 L905.5,448.2 L906.0,448.2 L906.5,448.2 L907.0,448.2 L907.5,448.2 L908.0,448.2 L908.5,448.2 L909.0,448.2 L909.5,448.2 L910.0,448.2 L910.5,448.2 L911.0,448.2 L911.5,448.2 L912.0,448.2 L912.5,448.2 L913.0,448.2 L913.5,448.2 L914.0,448.2 L914.5,448.2 L915.0,448.2 L915.5,448.2 L916.0,448.2 L916.5,448.2 L917.0,448.2 L917.5,448.2 L918.0,448.2 L918.5,448.2 L919.0,448.2 L919.5,448.2 L920.0,448.2 L920.5,448.2 L921.0,448.2 L921.5,448.2 L922.0,448.2 L922.5,448.2 L923.0,448.2 L923.5,448.2 L924.0,448.2 L924.5,448.2 L925.0,448.2 L925.5,448.2 L926.0,448.2 L926.5,448.2 L927.0,448.2 L927.5,448.2 L928.0,448.2" stroke="#63a663" stroke-width="4.6" stroke-linejoin="round" stroke-linecap="round" fill="none"/>
<path d="M761.1,461.8 L763.2,437" stroke="#000" stroke-width="3.6" fill="none"/>
<path d="M764.3,419.3 L772.9,448.4 L762.9,438.6 L751.2,446.8 Z" fill="#000"/>
<g font-family="'Liberation Serif','Times New Roman',serif" font-size="22.4" fill="#000">
<text transform="translate(87.0,462.9) scale(1.065,1)" text-anchor="end">0%</text>
<text transform="translate(87.0,389.3) scale(1.065,1)" text-anchor="end">0.05%</text>
<text transform="translate(87.0,315.7) scale(1.065,1)" text-anchor="end">0.1%</text>
<text transform="translate(87.0,242.0) scale(1.065,1)" text-anchor="end">0.15%</text>
<text transform="translate(87.0,168.4) scale(1.065,1)" text-anchor="end">0.2%</text>
<text transform="translate(87.0,94.8) scale(1.065,1)" text-anchor="end">0.25%</text>
<text transform="translate(87.0,21.2) scale(1.065,1)" text-anchor="end">0.3%</text>
<text transform="translate(200.2,482.0) scale(1.06,1)" text-anchor="middle">Jul 2020</text>
<text transform="translate(382.2,482.0) scale(1.06,1)" text-anchor="middle">Jan 2021</text>
<text transform="translate(563.7,482.0) scale(1.06,1)" text-anchor="middle">Jul 2021</text>
<text transform="translate(747.0,482.0) scale(1.06,1)" text-anchor="middle">Jan 2022</text>
<text transform="translate(927.7,482.0) scale(1.06,1)" text-anchor="middle">Jul 2022</text>
<text transform="translate(19.6,234.5) rotate(-90) scale(1.062,1)" text-anchor="middle" font-size="22.4">New Cases/Day (% Population)</text>
</g>
<g font-family="'Liberation Serif','Times New Roman',serif" font-size="22.6" fill="#000">
<text transform="translate(709.3,352.4) scale(1.136,1)">Increasing</text>
<text transform="translate(709.3,381.3) scale(1.116,1)">Unvaccinated</text>
<text transform="translate(709.3,409.5) scale(1.165,1)">Population</text>
</g>
<path d="M596.1,46.0 H612.6" stroke="#fb9b1f" stroke-width="4.1"/>
<g font-family="'Liberation Serif','Times New Roman',serif" fill="#000">
<text transform="translate(624.0,56.0) scale(1.17,1)" font-size="42.5" font-style="italic" stroke="#000" stroke-width="0.5">S</text>
<text transform="translate(647.6,61.5) scale(1.045,1)" font-size="29.6" font-style="italic" stroke="#000" stroke-width="0.45">unvaccinated</text>
<text transform="translate(813.9,58.9) scale(1.38,1)" font-size="40.5">=</text>
<text transform="translate(845.3,56.3) scale(0.925,1)" font-size="43.3">0</text>
<text transform="translate(865.5,56.6) scale(0.89,1.2)" font-size="42.5">%</text>
</g>
<path d="M596.1,94.05 H620.9" stroke="#646464" stroke-width="4" stroke-dasharray="4.4 3.6"/>
<g font-family="'Liberation Serif','Times New Roman',serif" fill="#000">
<text transform="translate(624.0,104.3) scale(1.17,1)" font-size="42.5" font-style="italic" stroke="#000" stroke-width="0.5">S</text>
<text transform="translate(647.6,109.8) scale(1.045,1)" font-size="29.6" font-style="italic" stroke="#000" stroke-width="0.45">unvaccinated</text>
<text transform="translate(813.9,107.2) scale(1.38,1)" font-size="40.5">=</text>
<text transform="translate(845.3,104.6) scale(0.925,1)" font-size="43.3">30</text>
<text transform="translate(885.5,104.9) scale(0.89,1.2)" font-size="42.5">%</text>
</g>
<path d="M596.1,142.2 H620.1" stroke="#63a663" stroke-width="4.3"/>
<g font-family="'Liberation Serif','Times New Roman',serif" fill="#000">
<text transform="translate(624.0,152.6) scale(1.17,1)" font-size="42.5" font-style="italic" stroke="#000" stroke-width="0.5">S</text>
<text transform="translate(647.6,158.1) scale(1.045,1)" font-size="29.6" font-style="italic" stroke="#000" stroke-width="0.45">unvaccinated</text>
<text transform="translate(813.9,155.5) scale(1.38,1)" font-size="40.5">=</text>
<text transform="translate(845.3,152.9) scale(0.925,1)" font-size="43.3">50</text>
<text transform="translate(885.5,153.2) scale(0.89,1.2)" font-size="42.5">%</text>
</g>
</svg>
</body></html>
